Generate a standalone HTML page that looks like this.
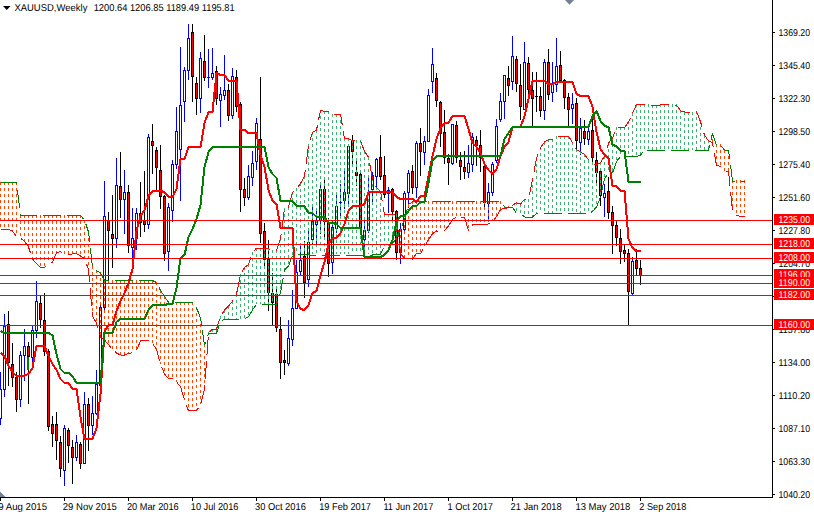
<!DOCTYPE html><html><head><meta charset="utf-8"><title>XAUUSD Weekly</title>
<style>html,body{margin:0;padding:0;background:#fff;overflow:hidden}svg{display:block}text{font-family:"Liberation Sans",sans-serif;font-size:10px;fill:#000;text-rendering:geometricPrecision}.w{fill:#fff}</style></head><body>
<svg width="814" height="514" viewBox="0 0 814 514" shape-rendering="crispEdges">
<rect width="814" height="514" fill="#fff"/>
<defs><clipPath id="cp"><rect x="0" y="0" width="772" height="497"/></clipPath></defs>
<g clip-path="url(#cp)">
<rect x="0" y="372" width="1" height="53" fill="#00f"/>
<rect x="-1" y="389" width="3" height="30" fill="#00f"/>
<rect x="0" y="390" width="1" height="28" fill="#fff"/>
<rect x="4" y="314" width="1" height="83" fill="#00f"/>
<rect x="3" y="326" width="3" height="64" fill="#00f"/>
<rect x="4" y="327" width="1" height="62" fill="#fff"/>
<rect x="8" y="311" width="1" height="75" fill="#000"/>
<rect x="7" y="324" width="3" height="39" fill="#000"/>
<rect x="8" y="325" width="1" height="37" fill="#f00"/>
<rect x="12" y="343" width="1" height="44" fill="#000"/>
<rect x="11" y="364" width="3" height="14" fill="#000"/>
<rect x="12" y="365" width="1" height="12" fill="#f00"/>
<rect x="16" y="372" width="1" height="40" fill="#000"/>
<rect x="15" y="377" width="3" height="23" fill="#000"/>
<rect x="16" y="378" width="1" height="21" fill="#f00"/>
<rect x="20" y="351" width="1" height="56" fill="#00f"/>
<rect x="19" y="355" width="3" height="45" fill="#00f"/>
<rect x="20" y="356" width="1" height="43" fill="#fff"/>
<rect x="24" y="329" width="1" height="52" fill="#00f"/>
<rect x="23" y="346" width="3" height="10" fill="#00f"/>
<rect x="24" y="347" width="1" height="8" fill="#fff"/>
<rect x="28" y="342" width="1" height="62" fill="#000"/>
<rect x="27" y="346" width="3" height="11" fill="#000"/>
<rect x="28" y="347" width="1" height="9" fill="#f00"/>
<rect x="32" y="325" width="1" height="38" fill="#00f"/>
<rect x="31" y="330" width="3" height="28" fill="#00f"/>
<rect x="32" y="331" width="1" height="26" fill="#fff"/>
<rect x="36" y="281" width="1" height="57" fill="#00f"/>
<rect x="35" y="301" width="3" height="30" fill="#00f"/>
<rect x="36" y="302" width="1" height="28" fill="#fff"/>
<rect x="40" y="295" width="1" height="33" fill="#000"/>
<rect x="39" y="303" width="3" height="17" fill="#000"/>
<rect x="40" y="304" width="1" height="15" fill="#f00"/>
<rect x="44" y="293" width="1" height="63" fill="#000"/>
<rect x="43" y="320" width="3" height="32" fill="#000"/>
<rect x="44" y="321" width="1" height="30" fill="#f00"/>
<rect x="48" y="349" width="1" height="82" fill="#000"/>
<rect x="47" y="351" width="3" height="76" fill="#000"/>
<rect x="48" y="352" width="1" height="74" fill="#f00"/>
<rect x="52" y="416" width="1" height="31" fill="#000"/>
<rect x="51" y="424" width="3" height="10" fill="#000"/>
<rect x="52" y="425" width="1" height="8" fill="#f00"/>
<rect x="56" y="412" width="1" height="48" fill="#000"/>
<rect x="55" y="424" width="3" height="17" fill="#000"/>
<rect x="56" y="425" width="1" height="15" fill="#f00"/>
<rect x="60" y="436" width="1" height="41" fill="#000"/>
<rect x="59" y="442" width="3" height="27" fill="#000"/>
<rect x="60" y="443" width="1" height="25" fill="#f00"/>
<rect x="64" y="425" width="1" height="61" fill="#00f"/>
<rect x="63" y="428" width="3" height="43" fill="#00f"/>
<rect x="64" y="429" width="1" height="41" fill="#fff"/>
<rect x="68" y="428" width="1" height="35" fill="#000"/>
<rect x="67" y="430" width="3" height="16" fill="#000"/>
<rect x="68" y="431" width="1" height="14" fill="#f00"/>
<rect x="72" y="440" width="1" height="44" fill="#000"/>
<rect x="71" y="447" width="3" height="11" fill="#000"/>
<rect x="72" y="448" width="1" height="9" fill="#f00"/>
<rect x="76" y="435" width="1" height="26" fill="#00f"/>
<rect x="75" y="442" width="3" height="16" fill="#00f"/>
<rect x="76" y="443" width="1" height="14" fill="#fff"/>
<rect x="80" y="442" width="1" height="27" fill="#000"/>
<rect x="79" y="444" width="3" height="20" fill="#000"/>
<rect x="80" y="445" width="1" height="18" fill="#f00"/>
<rect x="84" y="392" width="1" height="72" fill="#00f"/>
<rect x="83" y="404" width="3" height="60" fill="#00f"/>
<rect x="84" y="405" width="1" height="58" fill="#fff"/>
<rect x="88" y="398" width="1" height="53" fill="#000"/>
<rect x="87" y="404" width="3" height="22" fill="#000"/>
<rect x="88" y="405" width="1" height="20" fill="#f00"/>
<rect x="92" y="396" width="1" height="39" fill="#00f"/>
<rect x="91" y="413" width="3" height="13" fill="#00f"/>
<rect x="92" y="414" width="1" height="11" fill="#fff"/>
<rect x="96" y="370" width="1" height="45" fill="#00f"/>
<rect x="95" y="384" width="3" height="30" fill="#00f"/>
<rect x="96" y="385" width="1" height="28" fill="#fff"/>
<rect x="100" y="305" width="1" height="81" fill="#00f"/>
<rect x="99" y="307" width="3" height="79" fill="#00f"/>
<rect x="100" y="308" width="1" height="77" fill="#fff"/>
<rect x="104" y="181" width="1" height="129" fill="#00f"/>
<rect x="103" y="216" width="3" height="92" fill="#00f"/>
<rect x="104" y="217" width="1" height="90" fill="#fff"/>
<rect x="108" y="212" width="1" height="68" fill="#000"/>
<rect x="107" y="220" width="3" height="11" fill="#000"/>
<rect x="108" y="221" width="1" height="9" fill="#f00"/>
<rect x="112" y="195" width="1" height="73" fill="#000"/>
<rect x="111" y="234" width="3" height="5" fill="#000"/>
<rect x="112" y="235" width="1" height="3" fill="#f00"/>
<rect x="116" y="158" width="1" height="90" fill="#00f"/>
<rect x="115" y="185" width="3" height="54" fill="#00f"/>
<rect x="116" y="186" width="1" height="52" fill="#fff"/>
<rect x="120" y="152" width="1" height="66" fill="#000"/>
<rect x="119" y="186" width="3" height="14" fill="#000"/>
<rect x="120" y="187" width="1" height="12" fill="#f00"/>
<rect x="124" y="170" width="1" height="64" fill="#00f"/>
<rect x="123" y="192" width="3" height="8" fill="#00f"/>
<rect x="124" y="193" width="1" height="6" fill="#fff"/>
<rect x="128" y="185" width="1" height="68" fill="#000"/>
<rect x="127" y="192" width="3" height="54" fill="#000"/>
<rect x="128" y="193" width="1" height="52" fill="#f00"/>
<rect x="132" y="208" width="1" height="50" fill="#00f"/>
<rect x="131" y="238" width="3" height="10" fill="#00f"/>
<rect x="132" y="239" width="1" height="8" fill="#fff"/>
<rect x="136" y="208" width="1" height="42" fill="#00f"/>
<rect x="135" y="213" width="3" height="26" fill="#00f"/>
<rect x="136" y="214" width="1" height="24" fill="#fff"/>
<rect x="140" y="182" width="1" height="55" fill="#000"/>
<rect x="139" y="213" width="3" height="10" fill="#000"/>
<rect x="140" y="214" width="1" height="8" fill="#f00"/>
<rect x="144" y="171" width="1" height="61" fill="#000"/>
<rect x="143" y="221" width="3" height="4" fill="#000"/>
<rect x="144" y="222" width="1" height="2" fill="#f00"/>
<rect x="148" y="134" width="1" height="95" fill="#00f"/>
<rect x="147" y="137" width="3" height="88" fill="#00f"/>
<rect x="148" y="138" width="1" height="86" fill="#fff"/>
<rect x="152" y="124" width="1" height="50" fill="#000"/>
<rect x="151" y="141" width="3" height="5" fill="#000"/>
<rect x="152" y="142" width="1" height="3" fill="#f00"/>
<rect x="156" y="147" width="1" height="44" fill="#000"/>
<rect x="155" y="150" width="3" height="18" fill="#000"/>
<rect x="156" y="151" width="1" height="16" fill="#f00"/>
<rect x="160" y="145" width="1" height="64" fill="#000"/>
<rect x="159" y="170" width="3" height="27" fill="#000"/>
<rect x="160" y="171" width="1" height="25" fill="#f00"/>
<rect x="164" y="195" width="1" height="66" fill="#000"/>
<rect x="163" y="196" width="3" height="58" fill="#000"/>
<rect x="164" y="197" width="1" height="56" fill="#f00"/>
<rect x="168" y="203" width="1" height="68" fill="#00f"/>
<rect x="167" y="207" width="3" height="45" fill="#00f"/>
<rect x="168" y="208" width="1" height="43" fill="#fff"/>
<rect x="172" y="160" width="1" height="62" fill="#00f"/>
<rect x="171" y="164" width="3" height="47" fill="#00f"/>
<rect x="172" y="165" width="1" height="45" fill="#fff"/>
<rect x="176" y="107" width="1" height="62" fill="#00f"/>
<rect x="175" y="131" width="3" height="34" fill="#00f"/>
<rect x="176" y="132" width="1" height="32" fill="#fff"/>
<rect x="180" y="47" width="1" height="154" fill="#00f"/>
<rect x="179" y="105" width="3" height="45" fill="#00f"/>
<rect x="180" y="106" width="1" height="43" fill="#fff"/>
<rect x="184" y="67" width="1" height="55" fill="#00f"/>
<rect x="183" y="70" width="3" height="32" fill="#00f"/>
<rect x="184" y="71" width="1" height="30" fill="#fff"/>
<rect x="188" y="24" width="1" height="56" fill="#00f"/>
<rect x="187" y="38" width="3" height="33" fill="#00f"/>
<rect x="188" y="39" width="1" height="31" fill="#fff"/>
<rect x="192" y="24" width="1" height="78" fill="#000"/>
<rect x="191" y="32" width="3" height="45" fill="#000"/>
<rect x="192" y="33" width="1" height="43" fill="#f00"/>
<rect x="196" y="77" width="1" height="38" fill="#000"/>
<rect x="195" y="83" width="3" height="16" fill="#000"/>
<rect x="196" y="84" width="1" height="14" fill="#f00"/>
<rect x="200" y="52" width="1" height="61" fill="#00f"/>
<rect x="199" y="58" width="3" height="41" fill="#00f"/>
<rect x="200" y="59" width="1" height="39" fill="#fff"/>
<rect x="204" y="35" width="1" height="46" fill="#000"/>
<rect x="203" y="61" width="3" height="17" fill="#000"/>
<rect x="204" y="62" width="1" height="15" fill="#f00"/>
<rect x="208" y="49" width="1" height="39" fill="#00f"/>
<rect x="207" y="77" width="3" height="1" fill="#00f"/>
<rect x="212" y="48" width="1" height="32" fill="#00f"/>
<rect x="211" y="73" width="3" height="5" fill="#00f"/>
<rect x="212" y="74" width="1" height="3" fill="#fff"/>
<rect x="216" y="66" width="1" height="39" fill="#000"/>
<rect x="215" y="71" width="3" height="28" fill="#000"/>
<rect x="216" y="72" width="1" height="26" fill="#f00"/>
<rect x="220" y="87" width="1" height="40" fill="#00f"/>
<rect x="219" y="94" width="3" height="7" fill="#00f"/>
<rect x="220" y="95" width="1" height="5" fill="#fff"/>
<rect x="224" y="55" width="1" height="45" fill="#00f"/>
<rect x="223" y="90" width="3" height="6" fill="#00f"/>
<rect x="224" y="91" width="1" height="4" fill="#fff"/>
<rect x="228" y="84" width="1" height="37" fill="#000"/>
<rect x="227" y="90" width="3" height="26" fill="#000"/>
<rect x="228" y="91" width="1" height="24" fill="#f00"/>
<rect x="232" y="68" width="1" height="51" fill="#00f"/>
<rect x="231" y="76" width="3" height="40" fill="#00f"/>
<rect x="232" y="77" width="1" height="38" fill="#fff"/>
<rect x="236" y="70" width="1" height="42" fill="#000"/>
<rect x="235" y="77" width="3" height="30" fill="#000"/>
<rect x="236" y="78" width="1" height="28" fill="#f00"/>
<rect x="240" y="102" width="1" height="110" fill="#000"/>
<rect x="239" y="104" width="3" height="86" fill="#000"/>
<rect x="240" y="105" width="1" height="84" fill="#f00"/>
<rect x="244" y="178" width="1" height="28" fill="#000"/>
<rect x="243" y="189" width="3" height="9" fill="#000"/>
<rect x="244" y="190" width="1" height="7" fill="#f00"/>
<rect x="248" y="165" width="1" height="35" fill="#00f"/>
<rect x="247" y="176" width="3" height="22" fill="#00f"/>
<rect x="248" y="177" width="1" height="20" fill="#fff"/>
<rect x="252" y="151" width="1" height="35" fill="#00f"/>
<rect x="251" y="163" width="3" height="15" fill="#00f"/>
<rect x="252" y="164" width="1" height="13" fill="#fff"/>
<rect x="256" y="118" width="1" height="52" fill="#00f"/>
<rect x="255" y="123" width="3" height="39" fill="#00f"/>
<rect x="256" y="124" width="1" height="37" fill="#fff"/>
<rect x="260" y="77" width="1" height="166" fill="#000"/>
<rect x="259" y="139" width="3" height="95" fill="#000"/>
<rect x="260" y="140" width="1" height="93" fill="#f00"/>
<rect x="264" y="223" width="1" height="43" fill="#000"/>
<rect x="263" y="231" width="3" height="29" fill="#000"/>
<rect x="264" y="232" width="1" height="27" fill="#f00"/>
<rect x="268" y="240" width="1" height="71" fill="#000"/>
<rect x="267" y="259" width="3" height="34" fill="#000"/>
<rect x="268" y="260" width="1" height="32" fill="#f00"/>
<rect x="272" y="273" width="1" height="52" fill="#000"/>
<rect x="271" y="293" width="3" height="10" fill="#000"/>
<rect x="272" y="294" width="1" height="8" fill="#f00"/>
<rect x="276" y="289" width="1" height="43" fill="#000"/>
<rect x="275" y="294" width="3" height="34" fill="#000"/>
<rect x="276" y="295" width="1" height="32" fill="#f00"/>
<rect x="280" y="317" width="1" height="62" fill="#000"/>
<rect x="279" y="329" width="3" height="34" fill="#000"/>
<rect x="280" y="330" width="1" height="32" fill="#f00"/>
<rect x="284" y="350" width="1" height="25" fill="#000"/>
<rect x="283" y="360" width="3" height="3" fill="#000"/>
<rect x="284" y="361" width="1" height="1" fill="#f00"/>
<rect x="288" y="320" width="1" height="46" fill="#00f"/>
<rect x="287" y="338" width="3" height="26" fill="#00f"/>
<rect x="288" y="339" width="1" height="24" fill="#fff"/>
<rect x="292" y="290" width="1" height="56" fill="#00f"/>
<rect x="291" y="308" width="3" height="32" fill="#00f"/>
<rect x="292" y="309" width="1" height="30" fill="#fff"/>
<rect x="296" y="260" width="1" height="49" fill="#00f"/>
<rect x="295" y="272" width="3" height="37" fill="#00f"/>
<rect x="296" y="273" width="1" height="35" fill="#fff"/>
<rect x="300" y="245" width="1" height="30" fill="#00f"/>
<rect x="299" y="260" width="3" height="12" fill="#00f"/>
<rect x="300" y="261" width="1" height="10" fill="#fff"/>
<rect x="304" y="241" width="1" height="57" fill="#000"/>
<rect x="303" y="256" width="3" height="27" fill="#000"/>
<rect x="304" y="257" width="1" height="25" fill="#f00"/>
<rect x="308" y="231" width="1" height="56" fill="#00f"/>
<rect x="307" y="242" width="3" height="38" fill="#00f"/>
<rect x="308" y="243" width="1" height="36" fill="#fff"/>
<rect x="312" y="207" width="1" height="37" fill="#00f"/>
<rect x="311" y="221" width="3" height="19" fill="#00f"/>
<rect x="312" y="222" width="1" height="17" fill="#fff"/>
<rect x="316" y="208" width="1" height="39" fill="#00f"/>
<rect x="315" y="221" width="3" height="4" fill="#00f"/>
<rect x="316" y="222" width="1" height="2" fill="#fff"/>
<rect x="320" y="185" width="1" height="49" fill="#00f"/>
<rect x="319" y="189" width="3" height="32" fill="#00f"/>
<rect x="320" y="190" width="1" height="30" fill="#fff"/>
<rect x="324" y="179" width="1" height="58" fill="#000"/>
<rect x="323" y="189" width="3" height="33" fill="#000"/>
<rect x="324" y="190" width="1" height="31" fill="#f00"/>
<rect x="328" y="218" width="1" height="59" fill="#000"/>
<rect x="327" y="223" width="3" height="41" fill="#000"/>
<rect x="328" y="224" width="1" height="39" fill="#f00"/>
<rect x="332" y="221" width="1" height="53" fill="#00f"/>
<rect x="331" y="227" width="3" height="36" fill="#00f"/>
<rect x="332" y="228" width="1" height="34" fill="#fff"/>
<rect x="336" y="195" width="1" height="38" fill="#00f"/>
<rect x="335" y="206" width="3" height="23" fill="#00f"/>
<rect x="336" y="207" width="1" height="21" fill="#fff"/>
<rect x="340" y="184" width="1" height="32" fill="#00f"/>
<rect x="339" y="202" width="3" height="1" fill="#00f"/>
<rect x="344" y="171" width="1" height="38" fill="#00f"/>
<rect x="343" y="192" width="3" height="9" fill="#00f"/>
<rect x="344" y="193" width="1" height="7" fill="#fff"/>
<rect x="348" y="145" width="1" height="62" fill="#00f"/>
<rect x="347" y="146" width="3" height="48" fill="#00f"/>
<rect x="348" y="147" width="1" height="46" fill="#fff"/>
<rect x="352" y="135" width="1" height="30" fill="#000"/>
<rect x="351" y="140" width="3" height="12" fill="#000"/>
<rect x="352" y="141" width="1" height="10" fill="#f00"/>
<rect x="356" y="161" width="1" height="25" fill="#000"/>
<rect x="355" y="172" width="3" height="4" fill="#000"/>
<rect x="356" y="173" width="1" height="2" fill="#f00"/>
<rect x="360" y="172" width="1" height="58" fill="#000"/>
<rect x="359" y="174" width="3" height="54" fill="#000"/>
<rect x="360" y="175" width="1" height="52" fill="#f00"/>
<rect x="364" y="220" width="1" height="30" fill="#00f"/>
<rect x="363" y="230" width="3" height="10" fill="#00f"/>
<rect x="364" y="231" width="1" height="8" fill="#fff"/>
<rect x="368" y="178" width="1" height="55" fill="#00f"/>
<rect x="367" y="192" width="3" height="39" fill="#00f"/>
<rect x="368" y="193" width="1" height="37" fill="#fff"/>
<rect x="372" y="172" width="1" height="33" fill="#00f"/>
<rect x="371" y="175" width="3" height="15" fill="#00f"/>
<rect x="372" y="176" width="1" height="13" fill="#fff"/>
<rect x="376" y="158" width="1" height="30" fill="#00f"/>
<rect x="375" y="159" width="3" height="18" fill="#00f"/>
<rect x="376" y="160" width="1" height="16" fill="#fff"/>
<rect x="380" y="135" width="1" height="45" fill="#000"/>
<rect x="379" y="157" width="3" height="20" fill="#000"/>
<rect x="380" y="158" width="1" height="18" fill="#f00"/>
<rect x="384" y="156" width="1" height="42" fill="#000"/>
<rect x="383" y="175" width="3" height="20" fill="#000"/>
<rect x="384" y="176" width="1" height="18" fill="#f00"/>
<rect x="388" y="187" width="1" height="26" fill="#00f"/>
<rect x="387" y="190" width="3" height="4" fill="#00f"/>
<rect x="388" y="191" width="1" height="2" fill="#fff"/>
<rect x="392" y="188" width="1" height="32" fill="#000"/>
<rect x="391" y="189" width="3" height="23" fill="#000"/>
<rect x="392" y="190" width="1" height="21" fill="#f00"/>
<rect x="396" y="210" width="1" height="50" fill="#000"/>
<rect x="395" y="211" width="3" height="42" fill="#000"/>
<rect x="396" y="212" width="1" height="40" fill="#f00"/>
<rect x="400" y="223" width="1" height="41" fill="#00f"/>
<rect x="399" y="229" width="3" height="24" fill="#00f"/>
<rect x="400" y="230" width="1" height="22" fill="#fff"/>
<rect x="404" y="191" width="1" height="40" fill="#00f"/>
<rect x="403" y="193" width="3" height="37" fill="#00f"/>
<rect x="404" y="194" width="1" height="35" fill="#fff"/>
<rect x="408" y="170" width="1" height="38" fill="#00f"/>
<rect x="407" y="173" width="3" height="20" fill="#00f"/>
<rect x="408" y="174" width="1" height="18" fill="#fff"/>
<rect x="412" y="165" width="1" height="29" fill="#000"/>
<rect x="411" y="171" width="3" height="17" fill="#000"/>
<rect x="412" y="172" width="1" height="15" fill="#f00"/>
<rect x="416" y="141" width="1" height="57" fill="#00f"/>
<rect x="415" y="143" width="3" height="45" fill="#00f"/>
<rect x="416" y="144" width="1" height="43" fill="#fff"/>
<rect x="420" y="128" width="1" height="48" fill="#000"/>
<rect x="419" y="143" width="3" height="9" fill="#000"/>
<rect x="420" y="144" width="1" height="7" fill="#f00"/>
<rect x="424" y="136" width="1" height="29" fill="#00f"/>
<rect x="423" y="141" width="3" height="12" fill="#00f"/>
<rect x="424" y="142" width="1" height="10" fill="#fff"/>
<rect x="428" y="89" width="1" height="53" fill="#00f"/>
<rect x="427" y="95" width="3" height="47" fill="#00f"/>
<rect x="428" y="96" width="1" height="45" fill="#fff"/>
<rect x="432" y="48" width="1" height="45" fill="#00f"/>
<rect x="431" y="64" width="3" height="18" fill="#00f"/>
<rect x="432" y="65" width="1" height="16" fill="#fff"/>
<rect x="436" y="73" width="1" height="34" fill="#000"/>
<rect x="435" y="78" width="3" height="23" fill="#000"/>
<rect x="436" y="79" width="1" height="21" fill="#f00"/>
<rect x="440" y="101" width="1" height="46" fill="#000"/>
<rect x="439" y="102" width="3" height="32" fill="#000"/>
<rect x="440" y="103" width="1" height="30" fill="#f00"/>
<rect x="444" y="110" width="1" height="54" fill="#000"/>
<rect x="443" y="132" width="3" height="26" fill="#000"/>
<rect x="444" y="133" width="1" height="24" fill="#f00"/>
<rect x="448" y="154" width="1" height="31" fill="#000"/>
<rect x="447" y="158" width="3" height="5" fill="#000"/>
<rect x="448" y="159" width="1" height="3" fill="#f00"/>
<rect x="452" y="124" width="1" height="41" fill="#00f"/>
<rect x="451" y="124" width="3" height="40" fill="#00f"/>
<rect x="452" y="125" width="1" height="38" fill="#fff"/>
<rect x="456" y="121" width="1" height="42" fill="#000"/>
<rect x="455" y="125" width="3" height="33" fill="#000"/>
<rect x="456" y="126" width="1" height="31" fill="#f00"/>
<rect x="460" y="152" width="1" height="28" fill="#000"/>
<rect x="459" y="160" width="3" height="7" fill="#000"/>
<rect x="460" y="161" width="1" height="5" fill="#f00"/>
<rect x="464" y="151" width="1" height="28" fill="#000"/>
<rect x="463" y="167" width="3" height="5" fill="#000"/>
<rect x="464" y="168" width="1" height="3" fill="#f00"/>
<rect x="468" y="145" width="1" height="33" fill="#00f"/>
<rect x="467" y="163" width="3" height="10" fill="#00f"/>
<rect x="468" y="164" width="1" height="8" fill="#fff"/>
<rect x="472" y="133" width="1" height="39" fill="#00f"/>
<rect x="471" y="137" width="3" height="28" fill="#00f"/>
<rect x="472" y="138" width="1" height="26" fill="#fff"/>
<rect x="476" y="136" width="1" height="30" fill="#000"/>
<rect x="475" y="140" width="3" height="6" fill="#000"/>
<rect x="476" y="141" width="1" height="4" fill="#f00"/>
<rect x="480" y="130" width="1" height="42" fill="#000"/>
<rect x="479" y="145" width="3" height="13" fill="#000"/>
<rect x="480" y="146" width="1" height="11" fill="#f00"/>
<rect x="484" y="161" width="1" height="46" fill="#000"/>
<rect x="483" y="166" width="3" height="37" fill="#000"/>
<rect x="484" y="167" width="1" height="35" fill="#f00"/>
<rect x="488" y="183" width="1" height="36" fill="#00f"/>
<rect x="487" y="192" width="3" height="12" fill="#00f"/>
<rect x="488" y="193" width="1" height="10" fill="#fff"/>
<rect x="492" y="162" width="1" height="34" fill="#00f"/>
<rect x="491" y="164" width="3" height="29" fill="#00f"/>
<rect x="492" y="165" width="1" height="27" fill="#fff"/>
<rect x="496" y="119" width="1" height="44" fill="#00f"/>
<rect x="495" y="126" width="3" height="35" fill="#00f"/>
<rect x="496" y="127" width="1" height="33" fill="#fff"/>
<rect x="500" y="93" width="1" height="29" fill="#00f"/>
<rect x="499" y="101" width="3" height="19" fill="#00f"/>
<rect x="500" y="102" width="1" height="17" fill="#fff"/>
<rect x="504" y="75" width="1" height="44" fill="#00f"/>
<rect x="503" y="75" width="3" height="27" fill="#00f"/>
<rect x="504" y="76" width="1" height="25" fill="#fff"/>
<rect x="508" y="66" width="1" height="30" fill="#000"/>
<rect x="507" y="78" width="3" height="8" fill="#000"/>
<rect x="508" y="79" width="1" height="6" fill="#f00"/>
<rect x="512" y="36" width="1" height="54" fill="#00f"/>
<rect x="511" y="56" width="3" height="26" fill="#00f"/>
<rect x="512" y="57" width="1" height="24" fill="#fff"/>
<rect x="516" y="56" width="1" height="36" fill="#000"/>
<rect x="515" y="59" width="3" height="25" fill="#000"/>
<rect x="516" y="60" width="1" height="23" fill="#f00"/>
<rect x="520" y="64" width="1" height="56" fill="#000"/>
<rect x="519" y="85" width="3" height="22" fill="#000"/>
<rect x="520" y="86" width="1" height="20" fill="#f00"/>
<rect x="524" y="42" width="1" height="68" fill="#00f"/>
<rect x="523" y="62" width="3" height="48" fill="#00f"/>
<rect x="524" y="63" width="1" height="46" fill="#fff"/>
<rect x="528" y="57" width="1" height="38" fill="#000"/>
<rect x="527" y="63" width="3" height="27" fill="#000"/>
<rect x="528" y="64" width="1" height="25" fill="#f00"/>
<rect x="532" y="72" width="1" height="54" fill="#000"/>
<rect x="531" y="90" width="3" height="9" fill="#000"/>
<rect x="532" y="91" width="1" height="7" fill="#f00"/>
<rect x="536" y="72" width="1" height="40" fill="#000"/>
<rect x="535" y="96" width="3" height="1" fill="#000"/>
<rect x="540" y="87" width="1" height="30" fill="#000"/>
<rect x="539" y="96" width="3" height="15" fill="#000"/>
<rect x="540" y="97" width="1" height="13" fill="#f00"/>
<rect x="544" y="59" width="1" height="61" fill="#00f"/>
<rect x="543" y="62" width="3" height="49" fill="#00f"/>
<rect x="544" y="63" width="1" height="47" fill="#fff"/>
<rect x="548" y="49" width="1" height="51" fill="#000"/>
<rect x="547" y="62" width="3" height="33" fill="#000"/>
<rect x="548" y="63" width="1" height="31" fill="#f00"/>
<rect x="552" y="62" width="1" height="40" fill="#00f"/>
<rect x="551" y="84" width="3" height="9" fill="#00f"/>
<rect x="552" y="85" width="1" height="7" fill="#fff"/>
<rect x="556" y="38" width="1" height="54" fill="#00f"/>
<rect x="555" y="66" width="3" height="19" fill="#00f"/>
<rect x="556" y="67" width="1" height="17" fill="#fff"/>
<rect x="560" y="51" width="1" height="31" fill="#000"/>
<rect x="559" y="65" width="3" height="16" fill="#000"/>
<rect x="560" y="66" width="1" height="14" fill="#f00"/>
<rect x="564" y="79" width="1" height="30" fill="#000"/>
<rect x="563" y="80" width="3" height="18" fill="#000"/>
<rect x="564" y="81" width="1" height="16" fill="#f00"/>
<rect x="568" y="93" width="1" height="34" fill="#000"/>
<rect x="567" y="97" width="3" height="13" fill="#000"/>
<rect x="568" y="98" width="1" height="11" fill="#f00"/>
<rect x="572" y="93" width="1" height="31" fill="#00f"/>
<rect x="571" y="104" width="3" height="5" fill="#00f"/>
<rect x="572" y="105" width="1" height="3" fill="#fff"/>
<rect x="576" y="98" width="1" height="52" fill="#000"/>
<rect x="575" y="103" width="3" height="38" fill="#000"/>
<rect x="576" y="104" width="1" height="36" fill="#f00"/>
<rect x="580" y="118" width="1" height="37" fill="#00f"/>
<rect x="579" y="128" width="3" height="15" fill="#00f"/>
<rect x="580" y="129" width="1" height="13" fill="#fff"/>
<rect x="584" y="120" width="1" height="25" fill="#000"/>
<rect x="583" y="131" width="3" height="8" fill="#000"/>
<rect x="584" y="132" width="1" height="6" fill="#f00"/>
<rect x="588" y="127" width="1" height="18" fill="#00f"/>
<rect x="587" y="131" width="3" height="9" fill="#00f"/>
<rect x="588" y="132" width="1" height="7" fill="#fff"/>
<rect x="592" y="119" width="1" height="44" fill="#000"/>
<rect x="591" y="130" width="3" height="28" fill="#000"/>
<rect x="592" y="131" width="1" height="26" fill="#f00"/>
<rect x="596" y="152" width="1" height="34" fill="#000"/>
<rect x="595" y="160" width="3" height="13" fill="#000"/>
<rect x="596" y="161" width="1" height="11" fill="#f00"/>
<rect x="600" y="170" width="1" height="36" fill="#000"/>
<rect x="599" y="171" width="3" height="25" fill="#000"/>
<rect x="600" y="172" width="1" height="23" fill="#f00"/>
<rect x="604" y="184" width="1" height="33" fill="#00f"/>
<rect x="603" y="193" width="3" height="5" fill="#00f"/>
<rect x="604" y="194" width="1" height="3" fill="#fff"/>
<rect x="608" y="177" width="1" height="42" fill="#000"/>
<rect x="607" y="191" width="3" height="22" fill="#000"/>
<rect x="608" y="192" width="1" height="20" fill="#f00"/>
<rect x="612" y="206" width="1" height="48" fill="#000"/>
<rect x="611" y="212" width="3" height="14" fill="#000"/>
<rect x="612" y="213" width="1" height="12" fill="#f00"/>
<rect x="616" y="221" width="1" height="25" fill="#000"/>
<rect x="615" y="225" width="3" height="13" fill="#000"/>
<rect x="616" y="226" width="1" height="11" fill="#f00"/>
<rect x="620" y="229" width="1" height="35" fill="#000"/>
<rect x="619" y="238" width="3" height="14" fill="#000"/>
<rect x="620" y="239" width="1" height="12" fill="#f00"/>
<rect x="624" y="244" width="1" height="18" fill="#000"/>
<rect x="623" y="250" width="3" height="4" fill="#000"/>
<rect x="624" y="251" width="1" height="2" fill="#f00"/>
<rect x="628" y="249" width="1" height="77" fill="#000"/>
<rect x="627" y="253" width="3" height="39" fill="#000"/>
<rect x="628" y="254" width="1" height="37" fill="#f00"/>
<rect x="632" y="257" width="1" height="38" fill="#00f"/>
<rect x="631" y="261" width="3" height="33" fill="#00f"/>
<rect x="632" y="262" width="1" height="31" fill="#fff"/>
<rect x="636" y="249" width="1" height="27" fill="#000"/>
<rect x="635" y="260" width="3" height="9" fill="#000"/>
<rect x="636" y="261" width="1" height="7" fill="#f00"/>
<rect x="640" y="260" width="1" height="25" fill="#000"/>
<rect x="639" y="268" width="3" height="8" fill="#000"/>
<rect x="640" y="269" width="1" height="6" fill="#f00"/>
<rect x="27" y="357" width="2" height="13" fill="#008000"/>
<path d="M0.5 182V185M0.5 188V191M0.5 194V197M0.5 200V203M0.5 206V209M0.5 212V215M0.5 218V221M0.5 224V227" stroke="#ff4500" stroke-width="1" fill="none"/>
<path d="M4.5 182V185M4.5 188V191M4.5 194V197M4.5 200V203M4.5 206V209M4.5 212V215M4.5 218V221M4.5 224V227" stroke="#ff4500" stroke-width="1" fill="none"/>
<path d="M8.5 182V185M8.5 188V191M8.5 194V197M8.5 200V203M8.5 206V209M8.5 212V215M8.5 218V221M8.5 224V227" stroke="#ff4500" stroke-width="1" fill="none"/>
<path d="M12.5 182V185M12.5 188V191M12.5 194V197M12.5 200V203M12.5 206V209M12.5 212V215M12.5 218V221M12.5 224V227" stroke="#ff4500" stroke-width="1" fill="none"/>
<path d="M16.5 182V185M16.5 188V191M16.5 194V197M16.5 200V203M16.5 206V209M16.5 212V215M16.5 218V221M16.5 224V227M16.5 230V233" stroke="#ff4500" stroke-width="1" fill="none"/>
<path d="M20.5 215V218M20.5 221V224M20.5 227V230M20.5 233V236" stroke="#ff4500" stroke-width="1" fill="none"/>
<path d="M24.5 215V218M24.5 221V224M24.5 227V230M24.5 233V236M24.5 239V241" stroke="#ff4500" stroke-width="1" fill="none"/>
<path d="M28.5 215V218M28.5 221V224M28.5 227V230M28.5 233V236M28.5 239V242M28.5 245V246" stroke="#ff4500" stroke-width="1" fill="none"/>
<path d="M32.5 215V218M32.5 221V224M32.5 227V230M32.5 233V236M32.5 239V242M32.5 245V248M32.5 251V254M32.5 257V258" stroke="#ff4500" stroke-width="1" fill="none"/>
<path d="M36.5 215V218M36.5 221V224M36.5 227V230M36.5 233V236M36.5 239V242M36.5 245V248M36.5 251V254M36.5 257V260" stroke="#ff4500" stroke-width="1" fill="none"/>
<path d="M40.5 215V218M40.5 221V224M40.5 227V230M40.5 233V236M40.5 239V242M40.5 245V248M40.5 251V254M40.5 257V260M40.5 263V266" stroke="#ff4500" stroke-width="1" fill="none"/>
<path d="M44.5 215V218M44.5 221V224M44.5 227V230M44.5 233V236M44.5 239V242M44.5 245V248M44.5 251V254M44.5 257V260M44.5 263V266" stroke="#ff4500" stroke-width="1" fill="none"/>
<path d="M48.5 215V218M48.5 221V224M48.5 227V230M48.5 233V236M48.5 239V242M48.5 245V248M48.5 251V254M48.5 257V260" stroke="#ff4500" stroke-width="1" fill="none"/>
<path d="M52.5 215V218M52.5 221V224M52.5 227V230M52.5 233V236M52.5 239V242M52.5 245V248M52.5 251V254M52.5 257V260" stroke="#ff4500" stroke-width="1" fill="none"/>
<path d="M56.5 215V218M56.5 221V224M56.5 227V230M56.5 233V236M56.5 239V242M56.5 245V248M56.5 251V252" stroke="#ff4500" stroke-width="1" fill="none"/>
<path d="M60.5 215V218M60.5 221V224M60.5 227V230M60.5 233V236M60.5 239V242M60.5 245V248" stroke="#ff4500" stroke-width="1" fill="none"/>
<path d="M64.5 215V218M64.5 221V224M64.5 227V230M64.5 233V236M64.5 239V242M64.5 245V248M64.5 251V254" stroke="#ff4500" stroke-width="1" fill="none"/>
<path d="M68.5 215V218M68.5 221V224M68.5 227V230M68.5 233V236M68.5 239V242M68.5 245V248M68.5 251V254" stroke="#ff4500" stroke-width="1" fill="none"/>
<path d="M72.5 215V218M72.5 221V224M72.5 227V230M72.5 233V236M72.5 239V242M72.5 245V248M72.5 251V254" stroke="#ff4500" stroke-width="1" fill="none"/>
<path d="M76.5 215V218M76.5 221V224M76.5 227V230M76.5 233V236M76.5 239V242M76.5 245V248M76.5 251V253" stroke="#ff4500" stroke-width="1" fill="none"/>
<path d="M80.5 215V218M80.5 221V224M80.5 227V230M80.5 233V236M80.5 239V242M80.5 245V248M80.5 251V254" stroke="#ff4500" stroke-width="1" fill="none"/>
<path d="M84.5 220V223M84.5 226V229M84.5 232V235M84.5 238V241M84.5 244V247M84.5 250V253M84.5 256V258" stroke="#ff4500" stroke-width="1" fill="none"/>
<path d="M88.5 232V235M88.5 238V241M88.5 244V247M88.5 250V253M88.5 256V259M88.5 262V265M88.5 268V269" stroke="#ff4500" stroke-width="1" fill="none"/>
<path d="M92.5 266V269M92.5 272V275M92.5 278V281M92.5 284V287M92.5 290V293M92.5 296V299M92.5 302V305M92.5 308V311M92.5 314V316" stroke="#ff4500" stroke-width="1" fill="none"/>
<path d="M96.5 270V273M96.5 276V279M96.5 282V285M96.5 288V291M96.5 294V297M96.5 300V303M96.5 306V309M96.5 312V315M96.5 318V321" stroke="#ff4500" stroke-width="1" fill="none"/>
<path d="M100.5 272V275M100.5 278V281M100.5 284V287M100.5 290V293M100.5 296V299M100.5 302V305M100.5 308V311M100.5 314V317M100.5 320V323M100.5 326V329M100.5 332V335" stroke="#ff4500" stroke-width="1" fill="none"/>
<path d="M104.5 280V283M104.5 286V289M104.5 292V295M104.5 298V301M104.5 304V307M104.5 310V313M104.5 316V319M104.5 322V325M104.5 328V331M104.5 334V337" stroke="#ff4500" stroke-width="1" fill="none"/>
<path d="M108.5 280V283M108.5 286V289M108.5 292V295M108.5 298V301M108.5 304V307M108.5 310V313M108.5 316V319M108.5 322V325M108.5 328V331M108.5 334V337M108.5 340V343" stroke="#ff4500" stroke-width="1" fill="none"/>
<path d="M112.5 280V283M112.5 286V289M112.5 292V295M112.5 298V301M112.5 304V307M112.5 310V313M112.5 316V319M112.5 322V325M112.5 328V331M112.5 334V337M112.5 340V343M112.5 346V349" stroke="#ff4500" stroke-width="1" fill="none"/>
<path d="M116.5 280V283M116.5 286V289M116.5 292V295M116.5 298V301M116.5 304V307M116.5 310V313M116.5 316V319M116.5 322V325M116.5 328V331M116.5 334V337M116.5 340V343M116.5 346V349" stroke="#ff4500" stroke-width="1" fill="none"/>
<path d="M120.5 280V283M120.5 286V289M120.5 292V295M120.5 298V301M120.5 304V307M120.5 310V313M120.5 316V319M120.5 322V325M120.5 328V331M120.5 334V337M120.5 340V343M120.5 346V349M120.5 352V354" stroke="#ff4500" stroke-width="1" fill="none"/>
<path d="M124.5 280V283M124.5 286V289M124.5 292V295M124.5 298V301M124.5 304V307M124.5 310V313M124.5 316V319M124.5 322V325M124.5 328V331M124.5 334V337M124.5 340V343M124.5 346V349M124.5 352V354" stroke="#ff4500" stroke-width="1" fill="none"/>
<path d="M128.5 280V283M128.5 286V289M128.5 292V295M128.5 298V301M128.5 304V307M128.5 310V313M128.5 316V319M128.5 322V325M128.5 328V331M128.5 334V337M128.5 340V343M128.5 346V349M128.5 352V353" stroke="#ff4500" stroke-width="1" fill="none"/>
<path d="M132.5 280V283M132.5 286V289M132.5 292V295M132.5 298V301M132.5 304V307M132.5 310V313M132.5 316V319M132.5 322V325M132.5 328V331M132.5 334V337M132.5 340V343M132.5 346V349" stroke="#ff4500" stroke-width="1" fill="none"/>
<path d="M136.5 280V283M136.5 286V289M136.5 292V295M136.5 298V301M136.5 304V307M136.5 310V313M136.5 316V319M136.5 322V325M136.5 328V331M136.5 334V337M136.5 340V343M136.5 346V349" stroke="#ff4500" stroke-width="1" fill="none"/>
<path d="M140.5 280V283M140.5 286V289M140.5 292V295M140.5 298V301M140.5 304V307M140.5 310V313M140.5 316V319M140.5 322V325M140.5 328V331M140.5 334V337" stroke="#ff4500" stroke-width="1" fill="none"/>
<path d="M144.5 280V283M144.5 286V289M144.5 292V295M144.5 298V301M144.5 304V307M144.5 310V313M144.5 316V319M144.5 322V325M144.5 328V331M144.5 334V337" stroke="#ff4500" stroke-width="1" fill="none"/>
<path d="M148.5 280V283M148.5 286V289M148.5 292V295M148.5 298V301M148.5 304V307M148.5 310V313M148.5 316V319M148.5 322V325M148.5 328V331M148.5 334V337" stroke="#ff4500" stroke-width="1" fill="none"/>
<path d="M152.5 280V283M152.5 286V289M152.5 292V295M152.5 298V301M152.5 304V307M152.5 310V313M152.5 316V319M152.5 322V325M152.5 328V331M152.5 334V337M152.5 340V343" stroke="#ff4500" stroke-width="1" fill="none"/>
<path d="M156.5 282V285M156.5 288V291M156.5 294V297M156.5 300V303M156.5 306V309M156.5 312V315M156.5 318V321M156.5 324V327M156.5 330V333M156.5 336V339M156.5 342V345M156.5 348V349" stroke="#ff4500" stroke-width="1" fill="none"/>
<path d="M160.5 290V293M160.5 296V299M160.5 302V305M160.5 308V311M160.5 314V317M160.5 320V323M160.5 326V329M160.5 332V335M160.5 338V341M160.5 344V347M160.5 350V353M160.5 356V359M160.5 362V364" stroke="#ff4500" stroke-width="1" fill="none"/>
<path d="M164.5 296V299M164.5 302V305M164.5 308V311M164.5 314V317M164.5 320V323M164.5 326V329M164.5 332V335M164.5 338V341M164.5 344V347M164.5 350V353M164.5 356V359M164.5 362V365M164.5 368V371" stroke="#ff4500" stroke-width="1" fill="none"/>
<path d="M168.5 302V305M168.5 308V311M168.5 314V317M168.5 320V323M168.5 326V329M168.5 332V335M168.5 338V341M168.5 344V347M168.5 350V353M168.5 356V359M168.5 362V365M168.5 368V371M168.5 374V377" stroke="#ff4500" stroke-width="1" fill="none"/>
<path d="M172.5 302V305M172.5 308V311M172.5 314V317M172.5 320V323M172.5 326V329M172.5 332V335M172.5 338V341M172.5 344V347M172.5 350V353M172.5 356V359M172.5 362V365M172.5 368V371M172.5 374V377" stroke="#ff4500" stroke-width="1" fill="none"/>
<path d="M176.5 302V305M176.5 308V311M176.5 314V317M176.5 320V323M176.5 326V329M176.5 332V335M176.5 338V341M176.5 344V347M176.5 350V353M176.5 356V359M176.5 362V365M176.5 368V371M176.5 374V377M176.5 380V382" stroke="#ff4500" stroke-width="1" fill="none"/>
<path d="M180.5 302V305M180.5 308V311M180.5 314V317M180.5 320V323M180.5 326V329M180.5 332V335M180.5 338V341M180.5 344V347M180.5 350V353M180.5 356V359M180.5 362V365M180.5 368V371M180.5 374V377M180.5 380V383" stroke="#ff4500" stroke-width="1" fill="none"/>
<path d="M184.5 302V305M184.5 308V311M184.5 314V317M184.5 320V323M184.5 326V329M184.5 332V335M184.5 338V341M184.5 344V347M184.5 350V353M184.5 356V359M184.5 362V365M184.5 368V371M184.5 374V377M184.5 380V383M184.5 386V389M184.5 392V395M184.5 398V400" stroke="#ff4500" stroke-width="1" fill="none"/>
<path d="M188.5 302V305M188.5 308V311M188.5 314V317M188.5 320V323M188.5 326V329M188.5 332V335M188.5 338V341M188.5 344V347M188.5 350V353M188.5 356V359M188.5 362V365M188.5 368V371M188.5 374V377M188.5 380V383M188.5 386V389M188.5 392V395M188.5 398V401M188.5 404V407" stroke="#ff4500" stroke-width="1" fill="none"/>
<path d="M192.5 302V305M192.5 308V311M192.5 314V317M192.5 320V323M192.5 326V329M192.5 332V335M192.5 338V341M192.5 344V347M192.5 350V353M192.5 356V359M192.5 362V365M192.5 368V371M192.5 374V377M192.5 380V383M192.5 386V389M192.5 392V395M192.5 398V401M192.5 404V407" stroke="#ff4500" stroke-width="1" fill="none"/>
<path d="M196.5 307V310M196.5 313V316M196.5 319V322M196.5 325V328M196.5 331V334M196.5 337V340M196.5 343V346M196.5 349V352M196.5 355V358M196.5 361V364M196.5 367V370M196.5 373V376M196.5 379V382M196.5 385V388M196.5 391V394M196.5 397V400M196.5 403V406M196.5 409V410" stroke="#ff4500" stroke-width="1" fill="none"/>
<path d="M200.5 318V321M200.5 324V327M200.5 330V333M200.5 336V339M200.5 342V345M200.5 348V351M200.5 354V357M200.5 360V363M200.5 366V369M200.5 372V375M200.5 378V381M200.5 384V387M200.5 390V393M200.5 396V399M200.5 402V404" stroke="#ff4500" stroke-width="1" fill="none"/>
<path d="M204.5 344V347M204.5 350V353M204.5 356V359M204.5 362V365M204.5 368V371M204.5 374V377M204.5 380V383M204.5 386V388" stroke="#ff4500" stroke-width="1" fill="none"/>
<path d="M208.5 332V334" stroke="#3cb371" stroke-width="1" fill="none"/>
<path d="M212.5 329V332" stroke="#3cb371" stroke-width="1" fill="none"/>
<path d="M216.5 329V332" stroke="#3cb371" stroke-width="1" fill="none"/>
<path d="M220.5 316V319" stroke="#3cb371" stroke-width="1" fill="none"/>
<path d="M224.5 310V313M224.5 316V319" stroke="#3cb371" stroke-width="1" fill="none"/>
<path d="M228.5 306V309M228.5 312V315M228.5 318V319" stroke="#3cb371" stroke-width="1" fill="none"/>
<path d="M232.5 301V304M232.5 307V310M232.5 313V316" stroke="#3cb371" stroke-width="1" fill="none"/>
<path d="M236.5 294V297M236.5 300V303M236.5 306V309M236.5 312V315M236.5 318V319" stroke="#3cb371" stroke-width="1" fill="none"/>
<path d="M240.5 274V277M240.5 280V283M240.5 286V289M240.5 292V295M240.5 298V301M240.5 304V307M240.5 310V313M240.5 316V319" stroke="#3cb371" stroke-width="1" fill="none"/>
<path d="M244.5 267V270M244.5 273V276M244.5 279V282M244.5 285V288M244.5 291V294M244.5 297V300M244.5 303V306M244.5 309V312M244.5 315V318" stroke="#3cb371" stroke-width="1" fill="none"/>
<path d="M248.5 264V267M248.5 270V273M248.5 276V279M248.5 282V285M248.5 288V291M248.5 294V297M248.5 300V303M248.5 306V309M248.5 312V315" stroke="#3cb371" stroke-width="1" fill="none"/>
<path d="M252.5 252V255M252.5 258V261M252.5 264V267M252.5 270V273M252.5 276V279M252.5 282V285M252.5 288V291M252.5 294V297M252.5 300V303M252.5 306V309" stroke="#3cb371" stroke-width="1" fill="none"/>
<path d="M256.5 248V251M256.5 254V257M256.5 260V263M256.5 266V269M256.5 272V275M256.5 278V281M256.5 284V287M256.5 290V293M256.5 296V299M256.5 302V304" stroke="#3cb371" stroke-width="1" fill="none"/>
<path d="M260.5 248V251M260.5 254V257M260.5 260V263M260.5 266V269M260.5 272V275M260.5 278V281M260.5 284V287M260.5 290V293M260.5 296V299M260.5 302V304" stroke="#3cb371" stroke-width="1" fill="none"/>
<path d="M264.5 248V251M264.5 254V257M264.5 260V263M264.5 266V269M264.5 272V275M264.5 278V281M264.5 284V287M264.5 290V293M264.5 296V299M264.5 302V304" stroke="#3cb371" stroke-width="1" fill="none"/>
<path d="M268.5 248V251M268.5 254V257M268.5 260V263M268.5 266V269M268.5 272V275M268.5 278V281M268.5 284V287M268.5 290V293M268.5 296V299M268.5 302V304" stroke="#3cb371" stroke-width="1" fill="none"/>
<path d="M272.5 250V253M272.5 256V259M272.5 262V265M272.5 268V271M272.5 274V277M272.5 280V283M272.5 286V289M272.5 292V295M272.5 298V301" stroke="#3cb371" stroke-width="1" fill="none"/>
<path d="M276.5 250V253M276.5 256V259M276.5 262V265M276.5 268V271M276.5 274V277M276.5 280V283M276.5 286V289M276.5 292V295M276.5 298V301" stroke="#3cb371" stroke-width="1" fill="none"/>
<path d="M280.5 238V241M280.5 244V247M280.5 250V253M280.5 256V259M280.5 262V265M280.5 268V271M280.5 274V277M280.5 280V283M280.5 286V289" stroke="#3cb371" stroke-width="1" fill="none"/>
<path d="M284.5 208V211M284.5 214V217M284.5 220V223M284.5 226V229M284.5 232V235M284.5 238V241M284.5 244V247M284.5 250V253M284.5 256V259M284.5 262V265M284.5 268V270" stroke="#3cb371" stroke-width="1" fill="none"/>
<path d="M288.5 207V210M288.5 213V216M288.5 219V222M288.5 225V228M288.5 231V234M288.5 237V240M288.5 243V246M288.5 249V252M288.5 255V258M288.5 261V264" stroke="#3cb371" stroke-width="1" fill="none"/>
<path d="M292.5 192V195M292.5 198V201M292.5 204V207M292.5 210V213M292.5 216V219M292.5 222V225M292.5 228V231M292.5 234V237M292.5 240V243M292.5 246V249M292.5 252V255" stroke="#3cb371" stroke-width="1" fill="none"/>
<path d="M296.5 188V191M296.5 194V197M296.5 200V203M296.5 206V209M296.5 212V215M296.5 218V221M296.5 224V227M296.5 230V233M296.5 236V239M296.5 242V245M296.5 248V251" stroke="#3cb371" stroke-width="1" fill="none"/>
<path d="M300.5 183V186M300.5 189V192M300.5 195V198M300.5 201V204M300.5 207V210M300.5 213V216M300.5 219V222M300.5 225V228M300.5 231V234M300.5 237V240M300.5 243V246M300.5 249V252" stroke="#3cb371" stroke-width="1" fill="none"/>
<path d="M304.5 176V179M304.5 182V185M304.5 188V191M304.5 194V197M304.5 200V203M304.5 206V209M304.5 212V215M304.5 218V221M304.5 224V227M304.5 230V233M304.5 236V239M304.5 242V245M304.5 248V251" stroke="#3cb371" stroke-width="1" fill="none"/>
<path d="M308.5 144V147M308.5 150V153M308.5 156V159M308.5 162V165M308.5 168V171M308.5 174V177M308.5 180V183M308.5 186V189M308.5 192V195M308.5 198V201M308.5 204V207M308.5 210V213M308.5 216V219M308.5 222V225M308.5 228V231M308.5 234V237M308.5 240V243M308.5 246V249M308.5 252V254" stroke="#3cb371" stroke-width="1" fill="none"/>
<path d="M312.5 132V135M312.5 138V141M312.5 144V147M312.5 150V153M312.5 156V159M312.5 162V165M312.5 168V171M312.5 174V177M312.5 180V183M312.5 186V189M312.5 192V195M312.5 198V201M312.5 204V207M312.5 210V213M312.5 216V219M312.5 222V225M312.5 228V231M312.5 234V237M312.5 240V243M312.5 246V249M312.5 252V254" stroke="#3cb371" stroke-width="1" fill="none"/>
<path d="M316.5 130V133M316.5 136V139M316.5 142V145M316.5 148V151M316.5 154V157M316.5 160V163M316.5 166V169M316.5 172V175M316.5 178V181M316.5 184V187M316.5 190V193M316.5 196V199M316.5 202V205M316.5 208V211M316.5 214V217M316.5 220V223M316.5 226V229M316.5 232V235M316.5 238V241M316.5 244V247M316.5 250V253" stroke="#3cb371" stroke-width="1" fill="none"/>
<path d="M320.5 110V113M320.5 116V119M320.5 122V125M320.5 128V131M320.5 134V137M320.5 140V143M320.5 146V149M320.5 152V155M320.5 158V161M320.5 164V167M320.5 170V173M320.5 176V179M320.5 182V185M320.5 188V191M320.5 194V197M320.5 200V203M320.5 206V209M320.5 212V215M320.5 218V221M320.5 224V227M320.5 230V233M320.5 236V239M320.5 242V245M320.5 248V251" stroke="#3cb371" stroke-width="1" fill="none"/>
<path d="M324.5 111V114M324.5 117V120M324.5 123V126M324.5 129V132M324.5 135V138M324.5 141V144M324.5 147V150M324.5 153V156M324.5 159V162M324.5 165V168M324.5 171V174M324.5 177V180M324.5 183V186M324.5 189V192M324.5 195V198M324.5 201V204M324.5 207V210M324.5 213V216M324.5 219V222M324.5 225V228M324.5 231V234M324.5 237V240M324.5 243V246M324.5 249V252" stroke="#3cb371" stroke-width="1" fill="none"/>
<path d="M328.5 111V114M328.5 117V120M328.5 123V126M328.5 129V132M328.5 135V138M328.5 141V144M328.5 147V150M328.5 153V156M328.5 159V162M328.5 165V168M328.5 171V174M328.5 177V180M328.5 183V186M328.5 189V192M328.5 195V198M328.5 201V204M328.5 207V210M328.5 213V216M328.5 219V222M328.5 225V228M328.5 231V234M328.5 237V240M328.5 243V246M328.5 249V252" stroke="#3cb371" stroke-width="1" fill="none"/>
<path d="M332.5 114V117M332.5 120V123M332.5 126V129M332.5 132V135M332.5 138V141M332.5 144V147M332.5 150V153M332.5 156V159M332.5 162V165M332.5 168V171M332.5 174V177M332.5 180V183M332.5 186V189M332.5 192V195M332.5 198V201M332.5 204V207M332.5 210V213M332.5 216V219M332.5 222V225M332.5 228V231M332.5 234V237M332.5 240V243M332.5 246V249M332.5 252V254" stroke="#3cb371" stroke-width="1" fill="none"/>
<path d="M336.5 114V117M336.5 120V123M336.5 126V129M336.5 132V135M336.5 138V141M336.5 144V147M336.5 150V153M336.5 156V159M336.5 162V165M336.5 168V171M336.5 174V177M336.5 180V183M336.5 186V189M336.5 192V195M336.5 198V201M336.5 204V207M336.5 210V213M336.5 216V219M336.5 222V225M336.5 228V231M336.5 234V237M336.5 240V243M336.5 246V249M336.5 252V254" stroke="#3cb371" stroke-width="1" fill="none"/>
<path d="M340.5 114V117M340.5 120V123M340.5 126V129M340.5 132V135M340.5 138V141M340.5 144V147M340.5 150V153M340.5 156V159M340.5 162V165M340.5 168V171M340.5 174V177M340.5 180V183M340.5 186V189M340.5 192V195M340.5 198V201M340.5 204V207M340.5 210V213M340.5 216V219M340.5 222V225M340.5 228V231M340.5 234V237M340.5 240V243M340.5 246V249M340.5 252V254" stroke="#3cb371" stroke-width="1" fill="none"/>
<path d="M344.5 138V141M344.5 144V147M344.5 150V153M344.5 156V159M344.5 162V165M344.5 168V171M344.5 174V177M344.5 180V183M344.5 186V189M344.5 192V195M344.5 198V201M344.5 204V207M344.5 210V213M344.5 216V219M344.5 222V225M344.5 228V231M344.5 234V237M344.5 240V243M344.5 246V249M344.5 252V254" stroke="#3cb371" stroke-width="1" fill="none"/>
<path d="M348.5 138V141M348.5 144V147M348.5 150V153M348.5 156V159M348.5 162V165M348.5 168V171M348.5 174V177M348.5 180V183M348.5 186V189M348.5 192V195M348.5 198V201M348.5 204V207M348.5 210V213M348.5 216V219M348.5 222V225M348.5 228V231M348.5 234V237M348.5 240V243M348.5 246V249M348.5 252V254" stroke="#3cb371" stroke-width="1" fill="none"/>
<path d="M352.5 140V143M352.5 146V149M352.5 152V155M352.5 158V161M352.5 164V167M352.5 170V173M352.5 176V179M352.5 182V185M352.5 188V191M352.5 194V197M352.5 200V203M352.5 206V209M352.5 212V215M352.5 218V221M352.5 224V227M352.5 230V233M352.5 236V239M352.5 242V245M352.5 248V251" stroke="#3cb371" stroke-width="1" fill="none"/>
<path d="M356.5 140V143M356.5 146V149M356.5 152V155M356.5 158V161M356.5 164V167M356.5 170V173M356.5 176V179M356.5 182V185M356.5 188V191M356.5 194V197M356.5 200V203M356.5 206V209M356.5 212V215M356.5 218V221M356.5 224V227M356.5 230V233M356.5 236V239M356.5 242V245M356.5 248V251" stroke="#3cb371" stroke-width="1" fill="none"/>
<path d="M360.5 140V143M360.5 146V149M360.5 152V155M360.5 158V161M360.5 164V167M360.5 170V173M360.5 176V179M360.5 182V185M360.5 188V191M360.5 194V197M360.5 200V203M360.5 206V209M360.5 212V215M360.5 218V221M360.5 224V227M360.5 230V233M360.5 236V239M360.5 242V245M360.5 248V251" stroke="#3cb371" stroke-width="1" fill="none"/>
<path d="M364.5 151V154M364.5 157V160M364.5 163V166M364.5 169V172M364.5 175V178M364.5 181V184M364.5 187V190M364.5 193V196M364.5 199V202M364.5 205V208M364.5 211V214M364.5 217V220M364.5 223V226M364.5 229V232M364.5 235V238M364.5 241V244M364.5 247V250M364.5 253V254" stroke="#3cb371" stroke-width="1" fill="none"/>
<path d="M368.5 157V160M368.5 163V166M368.5 169V172M368.5 175V178M368.5 181V184M368.5 187V190M368.5 193V196M368.5 199V202M368.5 205V208M368.5 211V214M368.5 217V220M368.5 223V226M368.5 229V232M368.5 235V238M368.5 241V244M368.5 247V250M368.5 253V254" stroke="#3cb371" stroke-width="1" fill="none"/>
<path d="M372.5 178V181M372.5 184V187M372.5 190V193M372.5 196V199M372.5 202V205M372.5 208V211M372.5 214V217M372.5 220V223M372.5 226V229M372.5 232V235M372.5 238V241M372.5 244V247M372.5 250V253" stroke="#3cb371" stroke-width="1" fill="none"/>
<path d="M376.5 187V190M376.5 193V196M376.5 199V202M376.5 205V208M376.5 211V214M376.5 217V220M376.5 223V226M376.5 229V232M376.5 235V238M376.5 241V244M376.5 247V250M376.5 253V254" stroke="#3cb371" stroke-width="1" fill="none"/>
<path d="M380.5 191V194M380.5 197V200M380.5 203V206M380.5 209V212M380.5 215V218M380.5 221V224M380.5 227V230M380.5 233V236M380.5 239V242M380.5 245V248M380.5 251V254" stroke="#3cb371" stroke-width="1" fill="none"/>
<path d="M384.5 214V217M384.5 220V223M384.5 226V229M384.5 232V235M384.5 238V241M384.5 244V246" stroke="#3cb371" stroke-width="1" fill="none"/>
<path d="M388.5 214V217M388.5 220V223M388.5 226V229M388.5 232V235M388.5 238V241M388.5 244V246" stroke="#3cb371" stroke-width="1" fill="none"/>
<path d="M392.5 214V217M392.5 220V223M392.5 226V229M392.5 232V235M392.5 238V241" stroke="#3cb371" stroke-width="1" fill="none"/>
<path d="M396.5 214V217M396.5 220V223M396.5 226V229M396.5 232V235" stroke="#3cb371" stroke-width="1" fill="none"/>
<path d="M400.5 229V232M400.5 235V238M400.5 241V244M400.5 247V250M400.5 253V254" stroke="#ff4500" stroke-width="1" fill="none"/>
<path d="M404.5 219V222M404.5 225V228M404.5 231V234M404.5 237V240M404.5 243V246M404.5 249V252M404.5 255V258" stroke="#ff4500" stroke-width="1" fill="none"/>
<path d="M408.5 204V207M408.5 210V213M408.5 216V219M408.5 222V225M408.5 228V231M408.5 234V237M408.5 240V243M408.5 246V249M408.5 252V255" stroke="#ff4500" stroke-width="1" fill="none"/>
<path d="M412.5 201V204M412.5 207V210M412.5 213V216M412.5 219V222M412.5 225V228M412.5 231V234M412.5 237V240M412.5 243V246M412.5 249V252M412.5 255V258" stroke="#ff4500" stroke-width="1" fill="none"/>
<path d="M416.5 201V204M416.5 207V210M416.5 213V216M416.5 219V222M416.5 225V228M416.5 231V234M416.5 237V240M416.5 243V246M416.5 249V252" stroke="#ff4500" stroke-width="1" fill="none"/>
<path d="M420.5 201V204M420.5 207V210M420.5 213V216M420.5 219V222M420.5 225V228M420.5 231V234M420.5 237V240M420.5 243V246M420.5 249V252" stroke="#ff4500" stroke-width="1" fill="none"/>
<path d="M424.5 201V204M424.5 207V210M424.5 213V216M424.5 219V222M424.5 225V228M424.5 231V234M424.5 237V240M424.5 243V246" stroke="#ff4500" stroke-width="1" fill="none"/>
<path d="M428.5 201V204M428.5 207V210M428.5 213V216M428.5 219V222M428.5 225V228M428.5 231V234M428.5 237V239" stroke="#ff4500" stroke-width="1" fill="none"/>
<path d="M432.5 201V204M432.5 207V210M432.5 213V216M432.5 219V222M432.5 225V228M432.5 231V233" stroke="#ff4500" stroke-width="1" fill="none"/>
<path d="M436.5 201V204M436.5 207V210M436.5 213V216M436.5 219V222M436.5 225V228" stroke="#ff4500" stroke-width="1" fill="none"/>
<path d="M440.5 201V204M440.5 207V210M440.5 213V216M440.5 219V222M440.5 225V228" stroke="#ff4500" stroke-width="1" fill="none"/>
<path d="M444.5 201V204M444.5 207V210M444.5 213V216M444.5 219V222M444.5 225V228" stroke="#ff4500" stroke-width="1" fill="none"/>
<path d="M448.5 201V204M448.5 207V210M448.5 213V216M448.5 219V222M448.5 225V226" stroke="#ff4500" stroke-width="1" fill="none"/>
<path d="M452.5 201V204M452.5 207V210M452.5 213V216" stroke="#ff4500" stroke-width="1" fill="none"/>
<path d="M456.5 201V204M456.5 207V210M456.5 213V216" stroke="#ff4500" stroke-width="1" fill="none"/>
<path d="M460.5 201V204M460.5 207V210M460.5 213V216" stroke="#ff4500" stroke-width="1" fill="none"/>
<path d="M464.5 201V204M464.5 207V210M464.5 213V216" stroke="#ff4500" stroke-width="1" fill="none"/>
<path d="M468.5 201V204M468.5 207V210M468.5 213V216M468.5 219V222M468.5 225V228" stroke="#ff4500" stroke-width="1" fill="none"/>
<path d="M472.5 201V204M472.5 207V210M472.5 213V216M472.5 219V222" stroke="#ff4500" stroke-width="1" fill="none"/>
<path d="M476.5 201V204M476.5 207V210M476.5 213V216M476.5 219V222" stroke="#ff4500" stroke-width="1" fill="none"/>
<path d="M480.5 201V204M480.5 207V210M480.5 213V216M480.5 219V222" stroke="#ff4500" stroke-width="1" fill="none"/>
<path d="M484.5 201V204M484.5 207V210M484.5 213V216M484.5 219V222" stroke="#ff4500" stroke-width="1" fill="none"/>
<path d="M488.5 201V204M488.5 207V210M488.5 213V216M488.5 219V222" stroke="#ff4500" stroke-width="1" fill="none"/>
<path d="M492.5 201V204M492.5 207V210M492.5 213V216M492.5 219V221" stroke="#ff4500" stroke-width="1" fill="none"/>
<path d="M496.5 201V204M496.5 207V210M496.5 213V216" stroke="#ff4500" stroke-width="1" fill="none"/>
<path d="M500.5 201V204M500.5 207V209" stroke="#ff4500" stroke-width="1" fill="none"/>
<path d="M504.5 206V208" stroke="#ff4500" stroke-width="1" fill="none"/>
<path d="M508.5 206V208" stroke="#ff4500" stroke-width="1" fill="none"/>
<path d="M512.5 205V206" stroke="#3cb371" stroke-width="1" fill="none"/>
<path d="M516.5 202V205M516.5 208V211" stroke="#3cb371" stroke-width="1" fill="none"/>
<path d="M520.5 204V207M520.5 210V213" stroke="#3cb371" stroke-width="1" fill="none"/>
<path d="M524.5 199V202M524.5 205V208M524.5 211V214" stroke="#3cb371" stroke-width="1" fill="none"/>
<path d="M528.5 199V202M528.5 205V208M528.5 211V214" stroke="#3cb371" stroke-width="1" fill="none"/>
<path d="M532.5 179V182M532.5 185V188M532.5 191V194M532.5 197V200M532.5 203V206M532.5 209V212M532.5 215V216" stroke="#3cb371" stroke-width="1" fill="none"/>
<path d="M536.5 158V161M536.5 164V167M536.5 170V173M536.5 176V179M536.5 182V185M536.5 188V191M536.5 194V197M536.5 200V203M536.5 206V209M536.5 212V213" stroke="#3cb371" stroke-width="1" fill="none"/>
<path d="M540.5 147V150M540.5 153V156M540.5 159V162M540.5 165V168M540.5 171V174M540.5 177V180M540.5 183V186M540.5 189V192M540.5 195V198M540.5 201V204M540.5 207V210" stroke="#3cb371" stroke-width="1" fill="none"/>
<path d="M544.5 142V145M544.5 148V151M544.5 154V157M544.5 160V163M544.5 166V169M544.5 172V175M544.5 178V181M544.5 184V187M544.5 190V193M544.5 196V199M544.5 202V205M544.5 208V211" stroke="#3cb371" stroke-width="1" fill="none"/>
<path d="M548.5 139V142M548.5 145V148M548.5 151V154M548.5 157V160M548.5 163V166M548.5 169V172M548.5 175V178M548.5 181V184M548.5 187V190M548.5 193V196M548.5 199V202M548.5 205V208M548.5 211V213" stroke="#3cb371" stroke-width="1" fill="none"/>
<path d="M552.5 139V142M552.5 145V148M552.5 151V154M552.5 157V160M552.5 163V166M552.5 169V172M552.5 175V178M552.5 181V184M552.5 187V190M552.5 193V196M552.5 199V202M552.5 205V208M552.5 211V213" stroke="#3cb371" stroke-width="1" fill="none"/>
<path d="M556.5 136V139M556.5 142V145M556.5 148V151M556.5 154V157M556.5 160V163M556.5 166V169M556.5 172V175M556.5 178V181M556.5 184V187M556.5 190V193M556.5 196V199M556.5 202V205M556.5 208V211" stroke="#3cb371" stroke-width="1" fill="none"/>
<path d="M560.5 136V139M560.5 142V145M560.5 148V151M560.5 154V157M560.5 160V163M560.5 166V169M560.5 172V175M560.5 178V181M560.5 184V187M560.5 190V193M560.5 196V199M560.5 202V205M560.5 208V211" stroke="#3cb371" stroke-width="1" fill="none"/>
<path d="M564.5 136V139M564.5 142V145M564.5 148V151M564.5 154V157M564.5 160V163M564.5 166V169M564.5 172V175M564.5 178V181M564.5 184V187M564.5 190V193M564.5 196V199M564.5 202V205M564.5 208V211" stroke="#3cb371" stroke-width="1" fill="none"/>
<path d="M568.5 136V139M568.5 142V145M568.5 148V151M568.5 154V157M568.5 160V163M568.5 166V169M568.5 172V175M568.5 178V181M568.5 184V187M568.5 190V193M568.5 196V199M568.5 202V205M568.5 208V211" stroke="#3cb371" stroke-width="1" fill="none"/>
<path d="M572.5 142V145M572.5 148V151M572.5 154V157M572.5 160V163M572.5 166V169M572.5 172V175M572.5 178V181M572.5 184V187M572.5 190V193M572.5 196V199M572.5 202V205M572.5 208V211" stroke="#3cb371" stroke-width="1" fill="none"/>
<path d="M576.5 149V152M576.5 155V158M576.5 161V164M576.5 167V170M576.5 173V176M576.5 179V182M576.5 185V188M576.5 191V194M576.5 197V200M576.5 203V206M576.5 209V212" stroke="#3cb371" stroke-width="1" fill="none"/>
<path d="M580.5 151V154M580.5 157V160M580.5 163V166M580.5 169V172M580.5 175V178M580.5 181V184M580.5 187V190M580.5 193V196M580.5 199V202M580.5 205V208M580.5 211V213" stroke="#3cb371" stroke-width="1" fill="none"/>
<path d="M584.5 154V157M584.5 160V163M584.5 166V169M584.5 172V175M584.5 178V181M584.5 184V187M584.5 190V193M584.5 196V199M584.5 202V205M584.5 208V211" stroke="#3cb371" stroke-width="1" fill="none"/>
<path d="M588.5 160V163M588.5 166V169M588.5 172V175M588.5 178V181M588.5 184V187M588.5 190V193M588.5 196V199M588.5 202V205M588.5 208V211" stroke="#3cb371" stroke-width="1" fill="none"/>
<path d="M592.5 162V165M592.5 168V171M592.5 174V177M592.5 180V183M592.5 186V189M592.5 192V195M592.5 198V201M592.5 204V207M592.5 210V211" stroke="#3cb371" stroke-width="1" fill="none"/>
<path d="M596.5 165V168M596.5 171V174M596.5 177V180M596.5 183V186M596.5 189V192M596.5 195V198M596.5 201V204" stroke="#3cb371" stroke-width="1" fill="none"/>
<path d="M600.5 162V165M600.5 168V171M600.5 174V177M600.5 180V183M600.5 186V189M600.5 192V195" stroke="#3cb371" stroke-width="1" fill="none"/>
<path d="M604.5 156V159M604.5 162V165M604.5 168V171M604.5 174V177" stroke="#3cb371" stroke-width="1" fill="none"/>
<path d="M608.5 143V146M608.5 149V152M608.5 155V158M608.5 161V164M608.5 167V170" stroke="#3cb371" stroke-width="1" fill="none"/>
<path d="M612.5 138V141M612.5 144V147M612.5 150V153M612.5 156V159M612.5 162V165M612.5 168V171" stroke="#3cb371" stroke-width="1" fill="none"/>
<path d="M616.5 127V130M616.5 133V136M616.5 139V142M616.5 145V148M616.5 151V154M616.5 157V160" stroke="#3cb371" stroke-width="1" fill="none"/>
<path d="M620.5 127V130M620.5 133V136M620.5 139V142M620.5 145V148M620.5 151V154" stroke="#3cb371" stroke-width="1" fill="none"/>
<path d="M624.5 127V130M624.5 133V136M624.5 139V142M624.5 145V148M624.5 151V154" stroke="#3cb371" stroke-width="1" fill="none"/>
<path d="M628.5 121V124M628.5 127V130M628.5 133V136M628.5 139V142M628.5 145V148M628.5 151V154" stroke="#3cb371" stroke-width="1" fill="none"/>
<path d="M632.5 113V116M632.5 119V122M632.5 125V128M632.5 131V134M632.5 137V140M632.5 143V146M632.5 149V152M632.5 155V156" stroke="#3cb371" stroke-width="1" fill="none"/>
<path d="M636.5 104V107M636.5 110V113M636.5 116V119M636.5 122V125M636.5 128V131M636.5 134V137M636.5 140V143M636.5 146V149M636.5 152V155" stroke="#3cb371" stroke-width="1" fill="none"/>
<path d="M640.5 104V107M640.5 110V113M640.5 116V119M640.5 122V125M640.5 128V131M640.5 134V137M640.5 140V143M640.5 146V149M640.5 152V154" stroke="#3cb371" stroke-width="1" fill="none"/>
<path d="M644.5 104V107M644.5 110V113M644.5 116V119M644.5 122V125M644.5 128V131M644.5 134V137M644.5 140V143M644.5 146V149" stroke="#3cb371" stroke-width="1" fill="none"/>
<path d="M648.5 104V107M648.5 110V113M648.5 116V119M648.5 122V125M648.5 128V131M648.5 134V137M648.5 140V143M648.5 146V149" stroke="#3cb371" stroke-width="1" fill="none"/>
<path d="M652.5 105V108M652.5 111V114M652.5 117V120M652.5 123V126M652.5 129V132M652.5 135V138M652.5 141V144M652.5 147V150" stroke="#3cb371" stroke-width="1" fill="none"/>
<path d="M656.5 105V108M656.5 111V114M656.5 117V120M656.5 123V126M656.5 129V132M656.5 135V138M656.5 141V144M656.5 147V150" stroke="#3cb371" stroke-width="1" fill="none"/>
<path d="M660.5 104V107M660.5 110V113M660.5 116V119M660.5 122V125M660.5 128V131M660.5 134V137M660.5 140V143M660.5 146V149" stroke="#3cb371" stroke-width="1" fill="none"/>
<path d="M664.5 104V107M664.5 110V113M664.5 116V119M664.5 122V125M664.5 128V131M664.5 134V137M664.5 140V143M664.5 146V149" stroke="#3cb371" stroke-width="1" fill="none"/>
<path d="M668.5 104V107M668.5 110V113M668.5 116V119M668.5 122V125M668.5 128V131M668.5 134V137M668.5 140V143M668.5 146V149" stroke="#3cb371" stroke-width="1" fill="none"/>
<path d="M672.5 104V107M672.5 110V113M672.5 116V119M672.5 122V125M672.5 128V131M672.5 134V137M672.5 140V143M672.5 146V149" stroke="#3cb371" stroke-width="1" fill="none"/>
<path d="M676.5 104V107M676.5 110V113M676.5 116V119M676.5 122V125M676.5 128V131M676.5 134V137M676.5 140V143M676.5 146V149" stroke="#3cb371" stroke-width="1" fill="none"/>
<path d="M680.5 110V113M680.5 116V119M680.5 122V125M680.5 128V131M680.5 134V137M680.5 140V143M680.5 146V149" stroke="#3cb371" stroke-width="1" fill="none"/>
<path d="M684.5 112V115M684.5 118V121M684.5 124V127M684.5 130V133M684.5 136V139M684.5 142V145M684.5 148V150" stroke="#3cb371" stroke-width="1" fill="none"/>
<path d="M688.5 112V115M688.5 118V121M688.5 124V127M688.5 130V133M688.5 136V139M688.5 142V145M688.5 148V150" stroke="#3cb371" stroke-width="1" fill="none"/>
<path d="M692.5 112V115M692.5 118V121M692.5 124V127M692.5 130V133M692.5 136V139M692.5 142V145M692.5 148V150" stroke="#3cb371" stroke-width="1" fill="none"/>
<path d="M696.5 111V114M696.5 117V120M696.5 123V126M696.5 129V132M696.5 135V138M696.5 141V144M696.5 147V150" stroke="#3cb371" stroke-width="1" fill="none"/>
<path d="M700.5 121V124M700.5 127V130M700.5 133V136M700.5 139V142M700.5 145V148" stroke="#3cb371" stroke-width="1" fill="none"/>
<path d="M704.5 135V138M704.5 141V144M704.5 147V150" stroke="#3cb371" stroke-width="1" fill="none"/>
<path d="M708.5 140V143M708.5 146V149" stroke="#3cb371" stroke-width="1" fill="none"/>
<path d="M712.5 133V136M712.5 139V142" stroke="#ff4500" stroke-width="1" fill="none"/>
<path d="M716.5 144V147M716.5 150V153M716.5 156V159M716.5 162V165" stroke="#ff4500" stroke-width="1" fill="none"/>
<path d="M720.5 144V147M720.5 150V153M720.5 156V159M720.5 162V165" stroke="#ff4500" stroke-width="1" fill="none"/>
<path d="M724.5 150V153M724.5 156V159M724.5 162V165M724.5 168V171" stroke="#ff4500" stroke-width="1" fill="none"/>
<path d="M728.5 150V153M728.5 156V159M728.5 162V165M728.5 168V171" stroke="#ff4500" stroke-width="1" fill="none"/>
<path d="M732.5 180V183M732.5 186V189M732.5 192V195M732.5 198V201M732.5 204V207" stroke="#ff4500" stroke-width="1" fill="none"/>
<path d="M736.5 180V183M736.5 186V189M736.5 192V195M736.5 198V201M736.5 204V207M736.5 210V213" stroke="#ff4500" stroke-width="1" fill="none"/>
<path d="M740.5 180V183M740.5 186V189M740.5 192V195M740.5 198V201M740.5 204V207M740.5 210V213" stroke="#ff4500" stroke-width="1" fill="none"/>
<path d="M744.5 180V183M744.5 186V189M744.5 192V195M744.5 198V201M744.5 204V207M744.5 210V213" stroke="#ff4500" stroke-width="1" fill="none"/>
<polyline points="0.5,229.4 4.5,229.4 8.5,229.4 12.5,231.0 16.5,236.5 20.5,238.0 24.5,241.5 28.5,247.0 32.5,259.0 36.5,263.5 40.5,267.3 44.5,267.3 48.5,263.7 52.5,262.3 56.5,252.5 60.5,251.8 64.5,254.2 68.5,254.2 72.5,254.0 76.5,253.6 80.5,256.0 84.5,258.5 88.5,269.6 92.5,316.0 96.5,323.0 100.5,337.0 104.5,340.0 108.5,344.5 112.5,349.5 116.5,353.0 120.5,355.0 124.5,355.0 128.5,353.5 132.5,352.8 136.5,350.4 140.5,341.0 144.5,340.3 148.5,340.3 152.5,343.5 156.5,349.5 160.5,364.0 164.5,374.0 168.5,378.5 172.5,378.5 176.5,382.0 180.5,386.5 184.5,400.0 188.5,410.8 192.5,410.8 196.5,410.8 200.5,405.0 204.5,389.0 208.5,333.0 212.5,329.2 216.5,329.2 220.5,316.5 224.5,310.2 228.5,306.2 232.5,301.2 236.5,294.0 240.5,275.0 244.5,267.5 248.5,264.5 252.5,253.0 256.5,248.0 260.5,248.0 264.5,248.0 268.5,248.8 272.5,250.8 276.5,250.8 280.5,238.5 284.5,208.5 288.5,207.2 292.5,192.5 296.5,188.5 300.5,183.5 304.5,176.2 308.5,145.0 312.5,132.2 316.5,130.0 320.5,110.2 324.5,111.5 328.5,111.5 332.5,114.2 336.5,114.2 340.5,114.2 344.5,138.8 348.5,138.8 352.5,140.5 356.5,140.5 360.5,140.5 364.5,151.5 368.5,157.2 372.5,179.0 376.5,187.8 380.5,191.2 384.5,214.8 388.5,214.8 392.5,214.8 396.5,214.8 400.5,254.0 404.5,258.2 408.5,258.5 412.5,259.2 416.5,253.2 420.5,254.0 424.5,246.2 428.5,239.8 432.5,233.8 436.5,231.0 440.5,231.5 444.5,230.5 448.5,226.0 452.5,219.5 456.5,217.0 460.5,217.0 464.5,217.0 468.5,230.8 472.5,224.8 476.5,224.8 480.5,224.8 484.5,224.8 488.5,223.8 492.5,221.5 496.5,216.5 500.5,209.8 504.5,208.0 508.5,208.0 512.5,205.2 516.5,202.8 520.5,204.2 524.5,199.2 528.5,199.2 532.5,179.8 536.5,158.5 540.5,147.8 544.5,142.0 548.5,139.5 552.5,139.5 556.5,136.2 560.5,136.2 564.5,136.2 568.5,136.2 572.5,142.5 576.5,149.5 580.5,151.8 584.5,154.5 588.5,160.0 592.5,163.0 596.5,165.2 600.5,162.5 604.5,156.0 608.5,143.2 612.5,138.0 616.5,127.5 620.5,127.5 624.5,127.5 628.5,121.8 632.5,113.5 636.5,104.2 640.5,104.2 644.5,104.2 648.5,104.2 652.5,105.8 656.5,105.8 660.5,104.8 664.5,104.8 668.5,104.8 672.5,105.0 676.5,105.0 680.5,110.8 684.5,112.0 688.5,112.0 692.5,112.0 696.5,111.5 700.5,121.8 704.5,135.2 708.5,140.8 712.5,143.0 716.5,165.5 720.5,166.2 724.5,171.2 728.5,171.2 732.5,210.5 736.5,215.0 740.5,216.8 744.5,216.8" fill="none" stroke="#f00" stroke-width="1" stroke-dasharray="18 6" stroke-linejoin="round"/>
<polyline points="0.5,182.3 4.5,182.3 8.5,182.3 12.5,182.3 16.5,182.3 20.5,215.5 24.5,215.5 28.5,215.5 32.5,215.5 36.5,215.5 40.5,215.5 44.5,215.5 48.5,215.5 52.5,215.5 56.5,215.5 60.5,215.5 64.5,215.5 68.5,215.5 72.5,215.5 76.5,215.5 80.5,215.5 84.5,220.0 88.5,232.0 92.5,267.0 96.5,270.5 100.5,273.0 104.5,280.5 108.5,280.5 112.5,280.5 116.5,280.5 120.5,280.5 124.5,280.5 128.5,280.5 132.5,280.5 136.5,280.5 140.5,280.5 144.5,280.5 148.5,280.5 152.5,280.5 156.5,282.5 160.5,290.5 164.5,296.5 168.5,302.3 172.5,302.3 176.5,302.3 180.5,302.3 184.5,302.3 188.5,302.3 192.5,302.3 196.5,307.5 200.5,318.0 204.5,345.0 208.5,334.0 212.5,333.0 216.5,333.0 220.5,322.0 224.5,319.2 228.5,319.2 232.5,319.2 236.5,319.2 240.5,319.2 244.5,319.2 248.5,316.5 252.5,310.0 256.5,304.6 260.5,304.5 264.5,304.5 268.5,304.5 272.5,304.5 276.5,304.5 280.5,293.0 284.5,270.0 288.5,266.0 292.5,255.5 296.5,254.5 300.5,254.5 304.5,254.5 308.5,255.0 312.5,255.0 316.5,255.0 320.5,255.0 324.5,255.0 328.5,255.0 332.5,255.0 336.5,255.0 340.5,255.0 344.5,255.0 348.5,255.0 352.5,255.0 356.5,255.0 360.5,255.0 364.5,255.0 368.5,255.0 372.5,255.0 376.5,254.0 380.5,254.0 384.5,246.5 388.5,246.5 392.5,244.0 396.5,237.5 400.5,229.5 404.5,219.5 408.5,205.0 412.5,201.5 416.5,201.5 420.5,201.5 424.5,201.5 428.5,201.5 432.5,201.5 436.5,201.5 440.5,201.5 444.5,201.5 448.5,201.5 452.5,201.5 456.5,201.5 460.5,201.5 464.5,201.5 468.5,201.5 472.5,201.5 476.5,201.5 480.5,201.5 484.5,201.5 488.5,201.5 492.5,201.5 496.5,201.5 500.5,201.5 504.5,207.0 508.5,207.0 512.5,207.0 516.5,213.5 520.5,213.5 524.5,217.0 528.5,217.0 532.5,217.0 536.5,213.5 540.5,213.5 544.5,213.5 548.5,213.5 552.5,213.5 556.5,213.5 560.5,213.5 564.5,213.5 568.5,213.5 572.5,213.5 576.5,213.5 580.5,213.5 584.5,213.5 588.5,213.5 592.5,211.5 596.5,207.0 600.5,197.0 604.5,178.5 608.5,173.0 612.5,173.0 616.5,161.5 620.5,156.5 624.5,156.5 628.5,156.5 632.5,156.5 636.5,156.5 640.5,155.0 644.5,150.0 648.5,150.0 652.5,150.0 656.5,150.0 660.5,150.0 664.5,150.0 668.5,150.0 672.5,150.0 676.5,150.0 680.5,150.0 684.5,150.0 688.5,150.0 692.5,150.0 696.5,150.0 700.5,150.0 704.5,150.0 708.5,150.0 712.5,133.5 716.5,145.0 720.5,145.0 724.5,150.0 728.5,150.0 732.5,181.0 736.5,181.0 740.5,181.0 744.5,181.0" fill="none" stroke="#008000" stroke-width="1" stroke-dasharray="18 6" stroke-linejoin="round"/>
<polyline points="0.5,353.0 4.5,356.0 8.5,366.0 12.5,372.0 16.5,376.0 20.5,376.5 24.5,375.5 28.5,374.0 32.5,368.0 36.5,346.0 40.5,346.0 44.5,346.0 48.5,356.0 52.5,364.0 56.5,370.0 60.5,379.0 64.5,383.0 68.5,383.0 72.5,389.0 76.5,389.0 80.5,417.0 84.5,439.0 88.5,439.0 92.5,439.0 96.5,428.0 100.5,394.0 104.5,332.0 108.5,325.0 112.5,325.0 116.5,311.0 120.5,301.0 124.5,293.0 128.5,283.0 132.5,269.0 136.5,231.0 140.5,216.0 144.5,210.0 148.5,196.0 152.5,191.0 156.5,191.0 160.5,191.0 164.5,192.0 168.5,197.0 172.5,197.0 176.5,189.0 180.5,159.0 184.5,159.0 188.5,147.0 192.5,147.0 196.5,147.0 200.5,147.0 204.5,123.0 208.5,112.0 212.5,112.0 216.5,73.0 220.5,75.0 224.5,75.0 228.5,81.0 232.5,81.0 236.5,81.0 240.5,130.0 244.5,130.0 248.5,133.0 252.5,133.0 256.5,133.0 260.5,155.0 264.5,167.0 268.5,190.0 272.5,201.0 276.5,204.0 280.5,228.0 284.5,228.0 288.5,228.0 292.5,228.0 296.5,301.0 300.5,309.0 304.5,310.0 308.5,305.0 312.5,293.0 316.5,291.0 320.5,275.0 324.5,262.0 328.5,244.0 332.5,238.0 336.5,238.0 340.5,233.0 344.5,224.0 348.5,211.0 352.5,206.0 356.5,206.0 360.5,206.0 364.5,204.0 368.5,192.0 372.5,192.0 376.5,192.0 380.5,192.0 384.5,192.0 388.5,192.0 392.5,192.0 396.5,197.0 400.5,199.0 404.5,199.0 408.5,199.0 412.5,199.0 416.5,202.0 420.5,196.0 424.5,196.0 428.5,176.0 432.5,156.0 436.5,139.0 440.5,128.0 444.5,123.0 448.5,123.0 452.5,116.0 456.5,116.0 460.5,116.0 464.5,116.0 468.5,129.0 472.5,143.0 476.5,147.0 480.5,153.0 484.5,164.0 488.5,170.0 492.5,174.0 496.5,169.0 500.5,156.0 504.5,147.0 508.5,142.0 512.5,127.0 516.5,127.0 520.5,127.0 524.5,116.0 528.5,99.0 532.5,81.0 536.5,81.0 540.5,81.0 544.5,81.0 548.5,84.0 552.5,84.0 556.5,82.0 560.5,82.0 564.5,82.0 568.5,82.0 572.5,82.0 576.5,94.0 580.5,96.0 584.5,96.0 588.5,96.0 592.5,107.0 596.5,132.0 600.5,149.0 604.5,155.0 608.5,158.0 612.5,186.0 616.5,186.0 620.5,191.0 624.5,191.0 628.5,239.0 632.5,248.0 636.5,251.0 640.5,251.0" fill="none" stroke="#f00" stroke-width="2" stroke-linejoin="round"/>
<polyline points="0.5,331.0 4.5,333.0 8.5,333.0 12.5,333.0 16.5,333.0 20.5,333.0 24.5,333.0 28.5,333.0 32.5,333.0 36.5,333.0 40.5,333.0 44.5,333.0 48.5,333.0 52.5,335.5 56.5,354.0 60.5,369.0 64.5,373.0 68.5,373.0 72.5,376.0 76.5,383.0 80.5,383.0 84.5,383.0 88.5,383.0 92.5,383.0 96.5,383.0 100.5,383.0 104.5,333.0 108.5,333.0 112.5,333.0 116.5,322.0 120.5,319.0 124.5,319.0 128.5,319.0 132.5,319.0 136.5,319.0 140.5,319.0 144.5,319.0 148.5,310.0 152.5,305.0 156.5,305.0 160.5,305.0 164.5,305.0 168.5,304.0 172.5,304.0 176.5,288.0 180.5,258.0 184.5,255.0 188.5,237.0 192.5,229.0 196.5,219.0 200.5,205.0 204.5,167.0 208.5,152.0 212.5,147.0 216.5,147.0 220.5,147.0 224.5,147.0 228.5,147.0 232.5,147.0 236.5,147.0 240.5,147.0 244.5,147.0 248.5,147.0 252.5,147.0 256.5,147.0 260.5,147.0 264.5,147.0 268.5,167.0 272.5,174.0 276.5,178.0 280.5,201.0 284.5,201.0 288.5,201.0 292.5,201.0 296.5,206.0 300.5,206.0 304.5,206.0 308.5,213.0 312.5,213.0 316.5,217.0 320.5,217.0 324.5,217.0 328.5,223.0 332.5,223.0 336.5,224.0 340.5,228.0 344.5,228.0 348.5,228.0 352.5,228.0 356.5,228.0 360.5,228.0 364.5,257.0 368.5,257.0 372.5,257.0 376.5,257.0 380.5,257.0 384.5,255.0 388.5,250.0 392.5,240.0 396.5,222.0 400.5,216.0 404.5,216.0 408.5,211.0 412.5,206.0 416.5,206.0 420.5,202.0 424.5,202.0 428.5,183.0 432.5,161.0 436.5,156.0 440.5,156.0 444.5,156.0 448.5,156.0 452.5,156.0 456.5,156.0 460.5,156.0 464.5,156.0 468.5,156.0 472.5,156.0 476.5,156.0 480.5,156.0 484.5,156.0 488.5,156.0 492.5,156.0 496.5,156.0 500.5,156.0 504.5,139.0 508.5,133.0 512.5,127.0 516.5,127.0 520.5,127.0 524.5,127.0 528.5,127.0 532.5,127.0 536.5,127.0 540.5,127.0 544.5,127.0 548.5,127.0 552.5,127.0 556.5,127.0 560.5,127.0 564.5,127.0 568.5,127.0 572.5,127.0 576.5,127.0 580.5,127.0 584.5,127.0 588.5,127.0 592.5,116.0 596.5,111.0 600.5,121.0 604.5,126.0 608.5,127.0 612.5,145.0 616.5,146.0 620.5,151.0 624.5,151.0 628.5,182.0 632.5,182.0 636.5,182.0 640.5,182.0" fill="none" stroke="#008000" stroke-width="2" stroke-linejoin="round"/>
</g>
<rect x="0" y="220" width="772" height="1" fill="#f00"/>
<rect x="0" y="244" width="772" height="1" fill="#f00"/>
<rect x="0" y="258" width="772" height="1" fill="#f00"/>
<rect x="0" y="275" width="772" height="1" fill="#f00"/>
<rect x="0" y="283" width="772" height="1" fill="#f00"/>
<rect x="0" y="295" width="772" height="1" fill="#f00"/>
<rect x="0" y="325" width="772" height="1" fill="#f00"/>
<rect x="772" y="0" width="1" height="498" fill="#000"/>
<rect x="0" y="497" width="773" height="1" fill="#000"/>
<rect x="773" y="32" width="2" height="1" fill="#000"/>
<text x="778.5" y="36" textLength="31.6" lengthAdjust="spacingAndGlyphs">1369.20</text>
<rect x="773" y="65" width="2" height="1" fill="#000"/>
<text x="778.5" y="69" textLength="31.6" lengthAdjust="spacingAndGlyphs">1345.40</text>
<rect x="773" y="98" width="2" height="1" fill="#000"/>
<text x="778.5" y="102" textLength="31.6" lengthAdjust="spacingAndGlyphs">1322.30</text>
<rect x="773" y="131" width="2" height="1" fill="#000"/>
<text x="778.5" y="135" textLength="31.6" lengthAdjust="spacingAndGlyphs">1298.50</text>
<rect x="773" y="164" width="2" height="1" fill="#000"/>
<text x="778.5" y="168" textLength="31.6" lengthAdjust="spacingAndGlyphs">1275.40</text>
<rect x="773" y="197" width="2" height="1" fill="#000"/>
<text x="778.5" y="201" textLength="31.6" lengthAdjust="spacingAndGlyphs">1251.60</text>
<rect x="773" y="230" width="2" height="1" fill="#000"/>
<text x="778.5" y="234" textLength="31.6" lengthAdjust="spacingAndGlyphs">1227.80</text>
<rect x="773" y="263" width="2" height="1" fill="#000"/>
<text x="778.5" y="267" textLength="31.6" lengthAdjust="spacingAndGlyphs">1204.70</text>
<rect x="773" y="296" width="2" height="1" fill="#000"/>
<text x="778.5" y="300" textLength="31.6" lengthAdjust="spacingAndGlyphs">1180.90</text>
<rect x="773" y="329" width="2" height="1" fill="#000"/>
<text x="778.5" y="333" textLength="31.6" lengthAdjust="spacingAndGlyphs">1157.80</text>
<rect x="773" y="362" width="2" height="1" fill="#000"/>
<text x="778.5" y="366" textLength="31.6" lengthAdjust="spacingAndGlyphs">1134.00</text>
<rect x="773" y="395" width="2" height="1" fill="#000"/>
<text x="778.5" y="399" textLength="31.6" lengthAdjust="spacingAndGlyphs">1110.20</text>
<rect x="773" y="428" width="2" height="1" fill="#000"/>
<text x="778.5" y="432" textLength="31.6" lengthAdjust="spacingAndGlyphs">1087.10</text>
<rect x="773" y="461" width="2" height="1" fill="#000"/>
<text x="778.5" y="465" textLength="31.6" lengthAdjust="spacingAndGlyphs">1063.30</text>
<rect x="773" y="494" width="2" height="1" fill="#000"/>
<text x="778.5" y="498" textLength="31.6" lengthAdjust="spacingAndGlyphs">1040.20</text>
<rect x="774" y="214" width="40" height="11" fill="#f00"/>
<text class="w" x="778.5" y="223" textLength="31.6" lengthAdjust="spacingAndGlyphs">1235.00</text>
<rect x="774" y="238" width="40" height="11" fill="#f00"/>
<text class="w" x="778.5" y="247" textLength="31.6" lengthAdjust="spacingAndGlyphs">1218.00</text>
<rect x="774" y="252" width="40" height="11" fill="#f00"/>
<text class="w" x="778.5" y="261" textLength="31.6" lengthAdjust="spacingAndGlyphs">1208.00</text>
<rect x="774" y="269" width="40" height="11" fill="#f00"/>
<text class="w" x="778.5" y="278" textLength="31.6" lengthAdjust="spacingAndGlyphs">1196.00</text>
<rect x="774" y="277" width="40" height="11" fill="#f00"/>
<text class="w" x="778.5" y="286" textLength="31.6" lengthAdjust="spacingAndGlyphs">1190.00</text>
<rect x="774" y="289" width="40" height="11" fill="#f00"/>
<text class="w" x="778.5" y="298" textLength="31.6" lengthAdjust="spacingAndGlyphs">1182.00</text>
<rect x="774" y="319" width="40" height="11" fill="#f00"/>
<text class="w" x="778.5" y="328" textLength="31.6" lengthAdjust="spacingAndGlyphs">1160.00</text>
<rect x="0" y="497" width="1" height="4" fill="#000"/>
<text x="-1.8" y="510" textLength="48.8" lengthAdjust="spacingAndGlyphs">9 Aug 2015</text>
<rect x="64" y="497" width="1" height="4" fill="#000"/>
<text x="62.8" y="510" textLength="54" lengthAdjust="spacingAndGlyphs">29 Nov 2015</text>
<rect x="128" y="497" width="1" height="4" fill="#000"/>
<text x="126.9" y="510" textLength="51.8" lengthAdjust="spacingAndGlyphs">20 Mar 2016</text>
<rect x="192" y="497" width="1" height="4" fill="#000"/>
<text x="190.8" y="510" textLength="47.7" lengthAdjust="spacingAndGlyphs">10 Jul 2016</text>
<rect x="256" y="497" width="1" height="4" fill="#000"/>
<text x="255" y="510" textLength="50.9" lengthAdjust="spacingAndGlyphs">30 Oct 2016</text>
<rect x="320" y="497" width="1" height="4" fill="#000"/>
<text x="319.2" y="510" textLength="51.8" lengthAdjust="spacingAndGlyphs">19 Feb 2017</text>
<rect x="384" y="497" width="1" height="4" fill="#000"/>
<text x="383.4" y="510" textLength="49.9" lengthAdjust="spacingAndGlyphs">11 Jun 2017</text>
<rect x="448" y="497" width="1" height="4" fill="#000"/>
<text x="447.6" y="510" textLength="45.4" lengthAdjust="spacingAndGlyphs">1 Oct 2017</text>
<rect x="512" y="497" width="1" height="4" fill="#000"/>
<text x="510.5" y="510" textLength="51.2" lengthAdjust="spacingAndGlyphs">21 Jan 2018</text>
<rect x="576" y="497" width="1" height="4" fill="#000"/>
<text x="575.4" y="510" textLength="55" lengthAdjust="spacingAndGlyphs">13 May 2018</text>
<rect x="640" y="497" width="1" height="4" fill="#000"/>
<text x="639.3" y="510" textLength="47" lengthAdjust="spacingAndGlyphs">2 Sep 2018</text>
<path d="M3 6H10.5L6.75 10Z" fill="#000" shape-rendering="geometricPrecision"/>
<path d="M565 0H574L569.5 4.8Z" fill="#6e8399" shape-rendering="geometricPrecision"/>
<path d="M0 491.5L5.5 497H0Z" fill="#6e8399" shape-rendering="geometricPrecision"/>
<text x="14.4" y="11" textLength="73" lengthAdjust="spacingAndGlyphs">XAUUSD,Weekly</text>
<text x="93.7" y="11" textLength="141" lengthAdjust="spacingAndGlyphs">1200.64 1206.85 1189.49 1195.81</text>
</svg></body></html>
